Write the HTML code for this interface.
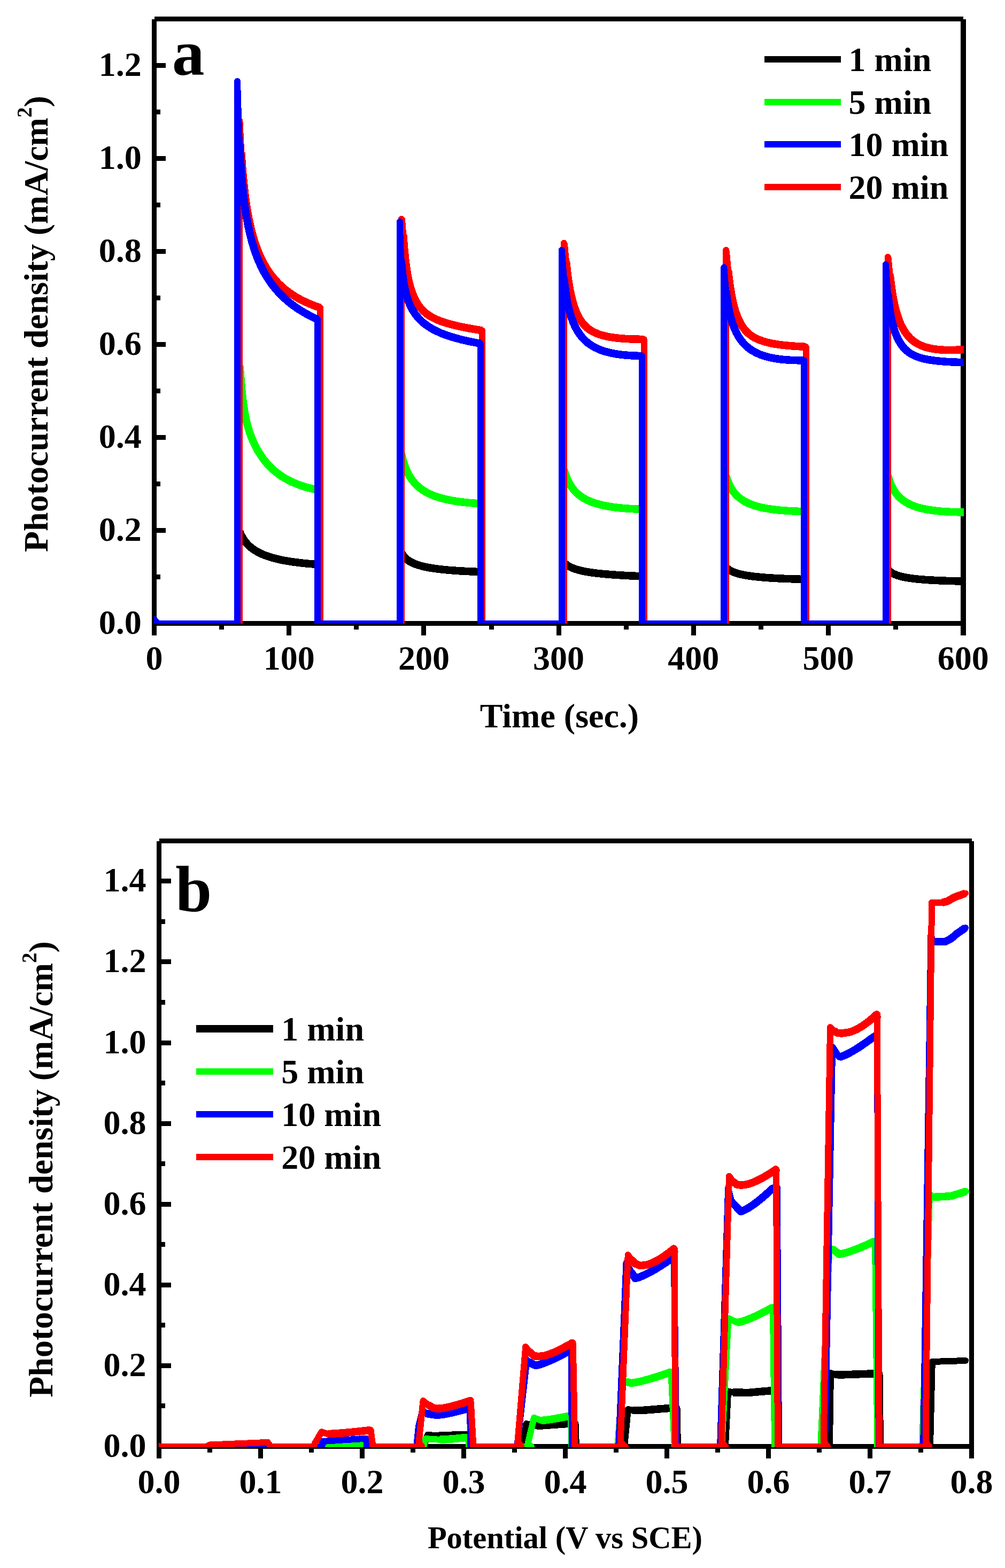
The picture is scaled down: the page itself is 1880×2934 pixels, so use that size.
<!DOCTYPE html>
<html><head><meta charset="utf-8"><title>Photocurrent density</title>
<style>html,body{margin:0;padding:0;background:#fff;}svg{display:block;}</style>
</head><body>
<svg xmlns="http://www.w3.org/2000/svg" width="1880" height="2934" viewBox="0 0 1880 2934" shape-rendering="crispEdges">
<rect width="100%" height="100%" fill="#fff"/>
<defs>
<clipPath id="ca"><rect x="288" y="35.5" width="1515" height="1131.5"/></clipPath>
<clipPath id="cb"><rect x="297" y="1573.5" width="1520.5" height="1134.5"/></clipPath>
</defs>
<line x1="288.50" y1="35.50" x2="1802.00" y2="35.50" stroke="#000" stroke-width="9" stroke-linecap="butt"/>
<line x1="1802.00" y1="35.50" x2="1802.00" y2="1171.00" stroke="#000" stroke-width="10" stroke-linecap="butt"/>
<line x1="288.50" y1="35.50" x2="288.50" y2="1189.00" stroke="#000" stroke-width="9" stroke-linecap="butt"/>
<line x1="288.50" y1="1166.50" x2="1806.50" y2="1166.50" stroke="#000" stroke-width="9" stroke-linecap="butt"/>
<line x1="540.70" y1="1171.00" x2="540.70" y2="1189.00" stroke="#000" stroke-width="9" stroke-linecap="butt"/>
<line x1="792.90" y1="1171.00" x2="792.90" y2="1189.00" stroke="#000" stroke-width="9" stroke-linecap="butt"/>
<line x1="1045.10" y1="1171.00" x2="1045.10" y2="1189.00" stroke="#000" stroke-width="9" stroke-linecap="butt"/>
<line x1="1297.30" y1="1171.00" x2="1297.30" y2="1189.00" stroke="#000" stroke-width="9" stroke-linecap="butt"/>
<line x1="1549.50" y1="1171.00" x2="1549.50" y2="1189.00" stroke="#000" stroke-width="9" stroke-linecap="butt"/>
<line x1="1802.00" y1="1171.00" x2="1802.00" y2="1189.00" stroke="#000" stroke-width="10" stroke-linecap="butt"/>
<line x1="414.60" y1="1171.00" x2="414.60" y2="1178.00" stroke="#000" stroke-width="9" stroke-linecap="butt"/>
<line x1="666.80" y1="1171.00" x2="666.80" y2="1178.00" stroke="#000" stroke-width="9" stroke-linecap="butt"/>
<line x1="919.00" y1="1171.00" x2="919.00" y2="1178.00" stroke="#000" stroke-width="9" stroke-linecap="butt"/>
<line x1="1171.20" y1="1171.00" x2="1171.20" y2="1178.00" stroke="#000" stroke-width="9" stroke-linecap="butt"/>
<line x1="1423.40" y1="1171.00" x2="1423.40" y2="1178.00" stroke="#000" stroke-width="9" stroke-linecap="butt"/>
<line x1="1675.60" y1="1171.00" x2="1675.60" y2="1178.00" stroke="#000" stroke-width="9" stroke-linecap="butt"/>
<line x1="293.00" y1="992.50" x2="310.00" y2="992.50" stroke="#000" stroke-width="9" stroke-linecap="butt"/>
<line x1="293.00" y1="818.50" x2="310.00" y2="818.50" stroke="#000" stroke-width="9" stroke-linecap="butt"/>
<line x1="293.00" y1="644.50" x2="310.00" y2="644.50" stroke="#000" stroke-width="9" stroke-linecap="butt"/>
<line x1="293.00" y1="470.50" x2="310.00" y2="470.50" stroke="#000" stroke-width="9" stroke-linecap="butt"/>
<line x1="293.00" y1="296.50" x2="310.00" y2="296.50" stroke="#000" stroke-width="9" stroke-linecap="butt"/>
<line x1="293.00" y1="122.50" x2="310.00" y2="122.50" stroke="#000" stroke-width="9" stroke-linecap="butt"/>
<line x1="293.00" y1="1079.50" x2="300.00" y2="1079.50" stroke="#000" stroke-width="9" stroke-linecap="butt"/>
<line x1="293.00" y1="905.50" x2="300.00" y2="905.50" stroke="#000" stroke-width="9" stroke-linecap="butt"/>
<line x1="293.00" y1="731.50" x2="300.00" y2="731.50" stroke="#000" stroke-width="9" stroke-linecap="butt"/>
<line x1="293.00" y1="557.50" x2="300.00" y2="557.50" stroke="#000" stroke-width="9" stroke-linecap="butt"/>
<line x1="293.00" y1="383.50" x2="300.00" y2="383.50" stroke="#000" stroke-width="9" stroke-linecap="butt"/>
<line x1="293.00" y1="209.50" x2="300.00" y2="209.50" stroke="#000" stroke-width="9" stroke-linecap="butt"/>
<line x1="293.00" y1="35.50" x2="300.00" y2="35.50" stroke="#000" stroke-width="9" stroke-linecap="butt"/>
<line x1="297.50" y1="1573.50" x2="1817.50" y2="1573.50" stroke="#000" stroke-width="9" stroke-linecap="butt"/>
<line x1="1817.50" y1="1573.50" x2="1817.50" y2="2711.00" stroke="#000" stroke-width="9" stroke-linecap="butt"/>
<line x1="297.50" y1="1573.50" x2="297.50" y2="2729.00" stroke="#000" stroke-width="9" stroke-linecap="butt"/>
<line x1="297.50" y1="2706.50" x2="1822.00" y2="2706.50" stroke="#000" stroke-width="9" stroke-linecap="butt"/>
<line x1="487.50" y1="2711.00" x2="487.50" y2="2729.00" stroke="#000" stroke-width="9" stroke-linecap="butt"/>
<line x1="677.50" y1="2711.00" x2="677.50" y2="2729.00" stroke="#000" stroke-width="9" stroke-linecap="butt"/>
<line x1="867.50" y1="2711.00" x2="867.50" y2="2729.00" stroke="#000" stroke-width="9" stroke-linecap="butt"/>
<line x1="1057.50" y1="2711.00" x2="1057.50" y2="2729.00" stroke="#000" stroke-width="9" stroke-linecap="butt"/>
<line x1="1247.50" y1="2711.00" x2="1247.50" y2="2729.00" stroke="#000" stroke-width="9" stroke-linecap="butt"/>
<line x1="1437.50" y1="2711.00" x2="1437.50" y2="2729.00" stroke="#000" stroke-width="9" stroke-linecap="butt"/>
<line x1="1627.50" y1="2711.00" x2="1627.50" y2="2729.00" stroke="#000" stroke-width="9" stroke-linecap="butt"/>
<line x1="1817.50" y1="2711.00" x2="1817.50" y2="2729.00" stroke="#000" stroke-width="9" stroke-linecap="butt"/>
<line x1="392.50" y1="2711.00" x2="392.50" y2="2718.00" stroke="#000" stroke-width="9" stroke-linecap="butt"/>
<line x1="582.50" y1="2711.00" x2="582.50" y2="2718.00" stroke="#000" stroke-width="9" stroke-linecap="butt"/>
<line x1="772.50" y1="2711.00" x2="772.50" y2="2718.00" stroke="#000" stroke-width="9" stroke-linecap="butt"/>
<line x1="962.50" y1="2711.00" x2="962.50" y2="2718.00" stroke="#000" stroke-width="9" stroke-linecap="butt"/>
<line x1="1152.50" y1="2711.00" x2="1152.50" y2="2718.00" stroke="#000" stroke-width="9" stroke-linecap="butt"/>
<line x1="1342.50" y1="2711.00" x2="1342.50" y2="2718.00" stroke="#000" stroke-width="9" stroke-linecap="butt"/>
<line x1="1532.50" y1="2711.00" x2="1532.50" y2="2718.00" stroke="#000" stroke-width="9" stroke-linecap="butt"/>
<line x1="1722.50" y1="2711.00" x2="1722.50" y2="2718.00" stroke="#000" stroke-width="9" stroke-linecap="butt"/>
<line x1="302.00" y1="2555.41" x2="320.00" y2="2555.41" stroke="#000" stroke-width="9" stroke-linecap="butt"/>
<line x1="302.00" y1="2404.32" x2="320.00" y2="2404.32" stroke="#000" stroke-width="9" stroke-linecap="butt"/>
<line x1="302.00" y1="2253.23" x2="320.00" y2="2253.23" stroke="#000" stroke-width="9" stroke-linecap="butt"/>
<line x1="302.00" y1="2102.14" x2="320.00" y2="2102.14" stroke="#000" stroke-width="9" stroke-linecap="butt"/>
<line x1="302.00" y1="1951.05" x2="320.00" y2="1951.05" stroke="#000" stroke-width="9" stroke-linecap="butt"/>
<line x1="302.00" y1="1799.96" x2="320.00" y2="1799.96" stroke="#000" stroke-width="9" stroke-linecap="butt"/>
<line x1="302.00" y1="1648.87" x2="320.00" y2="1648.87" stroke="#000" stroke-width="9" stroke-linecap="butt"/>
<line x1="302.00" y1="2630.95" x2="309.00" y2="2630.95" stroke="#000" stroke-width="9" stroke-linecap="butt"/>
<line x1="302.00" y1="2479.86" x2="309.00" y2="2479.86" stroke="#000" stroke-width="9" stroke-linecap="butt"/>
<line x1="302.00" y1="2328.78" x2="309.00" y2="2328.78" stroke="#000" stroke-width="9" stroke-linecap="butt"/>
<line x1="302.00" y1="2177.68" x2="309.00" y2="2177.68" stroke="#000" stroke-width="9" stroke-linecap="butt"/>
<line x1="302.00" y1="2026.59" x2="309.00" y2="2026.59" stroke="#000" stroke-width="9" stroke-linecap="butt"/>
<line x1="302.00" y1="1875.50" x2="309.00" y2="1875.50" stroke="#000" stroke-width="9" stroke-linecap="butt"/>
<line x1="302.00" y1="1724.41" x2="309.00" y2="1724.41" stroke="#000" stroke-width="9" stroke-linecap="butt"/>
<g clip-path="url(#ca)">
<polyline points="288.5,1158.7 292.3,1163.9 296.1,1166.5 444.1,1166.5 444.1,992.5 445.1,989.7 446.1,990.7 447.1,992.7 448.1,994.8 449.2,997.0 450.2,999.2 451.2,1001.2 452.2,1003.1 453.2,1005.0 454.2,1006.7 455.2,1008.3 456.2,1009.8 457.2,1011.3 458.2,1012.7 459.2,1014.0 460.2,1015.2 461.3,1016.4 462.3,1017.6 463.3,1018.6 464.3,1019.7 465.3,1020.7 466.3,1021.6 467.3,1022.6 468.3,1023.4 469.3,1024.3 470.3,1025.1 471.3,1025.9 472.4,1026.6 473.4,1027.4 474.4,1028.1 475.4,1028.8 476.4,1029.4 477.4,1030.1 478.4,1030.7 479.4,1031.3 480.4,1031.9 481.4,1032.5 482.4,1033.0 483.5,1033.6 484.5,1034.1 485.5,1034.6 486.5,1035.1 487.5,1035.6 488.5,1036.0 489.5,1036.5 490.5,1036.9 491.5,1037.4 492.5,1037.8 493.5,1038.2 494.5,1038.6 495.6,1039.0 496.6,1039.4 497.6,1039.8 498.6,1040.1 499.6,1040.5 500.6,1040.8 501.6,1041.2 502.6,1041.5 503.6,1041.8 504.6,1042.2 505.6,1042.5 506.7,1042.8 507.7,1043.1 508.7,1043.4 509.7,1043.7 510.7,1043.9 511.7,1044.2 512.7,1044.5 513.7,1044.8 514.7,1045.0 515.7,1045.3 516.7,1045.5 517.7,1045.8 518.8,1046.0 519.8,1046.3 520.8,1046.5 521.8,1046.7 522.8,1046.9 523.8,1047.2 524.8,1047.4 525.8,1047.6 526.8,1047.8 527.8,1048.0 528.8,1048.2 529.9,1048.4 530.9,1048.6 531.9,1048.8 532.9,1049.0 533.9,1049.2 534.9,1049.3 535.9,1049.5 536.9,1049.7 537.9,1049.9 538.9,1050.0 539.9,1050.2 541.0,1050.4 542.0,1050.5 543.0,1050.7 544.0,1050.8 545.0,1051.0 546.0,1051.1 547.0,1051.3 548.0,1051.4 549.0,1051.6 550.0,1051.7 551.0,1051.8 552.0,1052.0 553.1,1052.1 554.1,1052.2 555.1,1052.4 556.1,1052.5 557.1,1052.6 558.1,1052.8 559.1,1052.9 560.1,1053.0 561.1,1053.1 562.1,1053.2 563.1,1053.3 564.2,1053.5 565.2,1053.6 566.2,1053.7 567.2,1053.8 568.2,1053.9 569.2,1054.0 570.2,1054.1 571.2,1054.2 572.2,1054.3 573.2,1054.4 574.2,1054.5 575.3,1054.6 576.3,1054.7 577.3,1054.8 578.3,1054.9 579.3,1055.0 580.3,1055.1 581.3,1055.1 582.3,1055.2 583.3,1055.3 584.3,1055.4 585.3,1055.5 586.3,1055.6 587.4,1055.6 588.4,1055.7 589.4,1055.8 590.4,1055.9 591.4,1055.9 592.4,1056.0 593.4,1056.1 594.4,1056.2 594.4,1166.5 747.8,1166.5 747.8,1027.3 748.8,1029.3 749.8,1031.6 750.8,1033.7 751.8,1035.6 752.8,1037.3 753.8,1038.8 754.8,1040.2 755.8,1041.5 756.8,1042.6 757.8,1043.7 758.9,1044.7 759.9,1045.6 760.9,1046.5 761.9,1047.3 762.9,1048.1 763.9,1048.8 764.9,1049.4 765.9,1050.1 766.9,1050.7 767.9,1051.3 768.9,1051.8 769.9,1052.3 771.0,1052.9 772.0,1053.3 773.0,1053.8 774.0,1054.2 775.0,1054.7 776.0,1055.1 777.0,1055.5 778.0,1055.8 779.0,1056.2 780.0,1056.6 781.0,1056.9 782.1,1057.2 783.1,1057.5 784.1,1057.9 785.1,1058.1 786.1,1058.4 787.1,1058.7 788.1,1059.0 789.1,1059.3 790.1,1059.5 791.1,1059.8 792.1,1060.0 793.2,1060.2 794.2,1060.5 795.2,1060.7 796.2,1060.9 797.2,1061.1 798.2,1061.3 799.2,1061.5 800.2,1061.7 801.2,1061.9 802.2,1062.1 803.2,1062.3 804.2,1062.5 805.3,1062.6 806.3,1062.8 807.3,1063.0 808.3,1063.1 809.3,1063.3 810.3,1063.4 811.3,1063.6 812.3,1063.7 813.3,1063.9 814.3,1064.0 815.3,1064.2 816.4,1064.3 817.4,1064.4 818.4,1064.6 819.4,1064.7 820.4,1064.8 821.4,1064.9 822.4,1065.1 823.4,1065.2 824.4,1065.3 825.4,1065.4 826.4,1065.5 827.5,1065.6 828.5,1065.7 829.5,1065.8 830.5,1065.9 831.5,1066.0 832.5,1066.1 833.5,1066.2 834.5,1066.3 835.5,1066.4 836.5,1066.5 837.5,1066.6 838.5,1066.7 839.6,1066.8 840.6,1066.9 841.6,1067.0 842.6,1067.0 843.6,1067.1 844.6,1067.2 845.6,1067.3 846.6,1067.4 847.6,1067.4 848.6,1067.5 849.6,1067.6 850.7,1067.7 851.7,1067.7 852.7,1067.8 853.7,1067.9 854.7,1067.9 855.7,1068.0 856.7,1068.1 857.7,1068.1 858.7,1068.2 859.7,1068.3 860.7,1068.3 861.8,1068.4 862.8,1068.4 863.8,1068.5 864.8,1068.5 865.8,1068.6 866.8,1068.7 867.8,1068.7 868.8,1068.8 869.8,1068.8 870.8,1068.9 871.8,1068.9 872.8,1069.0 873.9,1069.0 874.9,1069.1 875.9,1069.1 876.9,1069.2 877.9,1069.2 878.9,1069.3 879.9,1069.3 880.9,1069.4 881.9,1069.4 882.9,1069.4 883.9,1069.5 885.0,1069.5 886.0,1069.6 887.0,1069.6 888.0,1069.6 889.0,1069.7 890.0,1069.7 891.0,1069.8 892.0,1069.8 893.0,1069.8 894.0,1069.9 895.0,1069.9 896.0,1069.9 897.1,1070.0 898.1,1070.0 898.6,1070.0 898.6,1166.5 1050.9,1166.5 1050.9,1049.0 1051.9,1049.2 1052.9,1050.2 1053.9,1051.4 1054.9,1052.4 1055.9,1053.5 1057.0,1054.4 1058.0,1055.3 1059.0,1056.1 1060.0,1056.9 1061.0,1057.6 1062.0,1058.3 1063.0,1058.9 1064.0,1059.5 1065.0,1060.1 1066.0,1060.6 1067.0,1061.1 1068.1,1061.6 1069.1,1062.1 1070.1,1062.5 1071.1,1062.9 1072.1,1063.3 1073.1,1063.7 1074.1,1064.1 1075.1,1064.4 1076.1,1064.8 1077.1,1065.1 1078.1,1065.4 1079.1,1065.7 1080.2,1066.0 1081.2,1066.3 1082.2,1066.6 1083.2,1066.8 1084.2,1067.1 1085.2,1067.4 1086.2,1067.6 1087.2,1067.8 1088.2,1068.1 1089.2,1068.3 1090.2,1068.5 1091.3,1068.7 1092.3,1068.9 1093.3,1069.1 1094.3,1069.3 1095.3,1069.5 1096.3,1069.7 1097.3,1069.9 1098.3,1070.1 1099.3,1070.2 1100.3,1070.4 1101.3,1070.6 1102.3,1070.7 1103.4,1070.9 1104.4,1071.0 1105.4,1071.2 1106.4,1071.3 1107.4,1071.5 1108.4,1071.6 1109.4,1071.8 1110.4,1071.9 1111.4,1072.0 1112.4,1072.2 1113.4,1072.3 1114.5,1072.4 1115.5,1072.5 1116.5,1072.7 1117.5,1072.8 1118.5,1072.9 1119.5,1073.0 1120.5,1073.1 1121.5,1073.2 1122.5,1073.3 1123.5,1073.4 1124.5,1073.5 1125.6,1073.6 1126.6,1073.7 1127.6,1073.8 1128.6,1073.9 1129.6,1074.0 1130.6,1074.1 1131.6,1074.2 1132.6,1074.3 1133.6,1074.4 1134.6,1074.5 1135.6,1074.6 1136.6,1074.7 1137.7,1074.7 1138.7,1074.8 1139.7,1074.9 1140.7,1075.0 1141.7,1075.1 1142.7,1075.1 1143.7,1075.2 1144.7,1075.3 1145.7,1075.4 1146.7,1075.4 1147.7,1075.5 1148.8,1075.6 1149.8,1075.7 1150.8,1075.7 1151.8,1075.8 1152.8,1075.9 1153.8,1075.9 1154.8,1076.0 1155.8,1076.1 1156.8,1076.1 1157.8,1076.2 1158.8,1076.2 1159.9,1076.3 1160.9,1076.4 1161.9,1076.4 1162.9,1076.5 1163.9,1076.5 1164.9,1076.6 1165.9,1076.6 1166.9,1076.7 1167.9,1076.8 1168.9,1076.8 1169.9,1076.9 1170.9,1076.9 1172.0,1077.0 1173.0,1077.0 1174.0,1077.1 1175.0,1077.1 1176.0,1077.2 1177.0,1077.2 1178.0,1077.3 1179.0,1077.3 1180.0,1077.4 1181.0,1077.4 1182.0,1077.4 1183.1,1077.5 1184.1,1077.5 1185.1,1077.6 1186.1,1077.6 1187.1,1077.7 1188.1,1077.7 1189.1,1077.8 1190.1,1077.8 1191.1,1077.8 1192.1,1077.9 1193.1,1077.9 1194.2,1078.0 1195.2,1078.0 1196.2,1078.0 1197.2,1078.1 1198.2,1078.1 1199.2,1078.1 1200.2,1078.2 1201.0,1078.2 1201.0,1166.5 1354.3,1166.5 1354.3,1057.8 1355.3,1058.3 1356.3,1059.4 1357.3,1060.6 1358.3,1061.6 1359.3,1062.6 1360.3,1063.6 1361.4,1064.4 1362.4,1065.2 1363.4,1065.9 1364.4,1066.6 1365.4,1067.2 1366.4,1067.8 1367.4,1068.3 1368.4,1068.8 1369.4,1069.3 1370.4,1069.8 1371.4,1070.2 1372.5,1070.6 1373.5,1071.0 1374.5,1071.4 1375.5,1071.7 1376.5,1072.1 1377.5,1072.4 1378.5,1072.7 1379.5,1073.0 1380.5,1073.3 1381.5,1073.6 1382.5,1073.9 1383.6,1074.1 1384.6,1074.4 1385.6,1074.6 1386.6,1074.8 1387.6,1075.1 1388.6,1075.3 1389.6,1075.5 1390.6,1075.7 1391.6,1075.9 1392.6,1076.1 1393.6,1076.3 1394.6,1076.5 1395.7,1076.6 1396.7,1076.8 1397.7,1077.0 1398.7,1077.1 1399.7,1077.3 1400.7,1077.4 1401.7,1077.6 1402.7,1077.7 1403.7,1077.9 1404.7,1078.0 1405.7,1078.2 1406.8,1078.3 1407.8,1078.4 1408.8,1078.5 1409.8,1078.7 1410.8,1078.8 1411.8,1078.9 1412.8,1079.0 1413.8,1079.1 1414.8,1079.2 1415.8,1079.3 1416.8,1079.4 1417.9,1079.5 1418.9,1079.6 1419.9,1079.7 1420.9,1079.8 1421.9,1079.9 1422.9,1080.0 1423.9,1080.1 1424.9,1080.2 1425.9,1080.3 1426.9,1080.4 1427.9,1080.5 1428.9,1080.5 1430.0,1080.6 1431.0,1080.7 1432.0,1080.8 1433.0,1080.9 1434.0,1080.9 1435.0,1081.0 1436.0,1081.1 1437.0,1081.1 1438.0,1081.2 1439.0,1081.3 1440.0,1081.3 1441.1,1081.4 1442.1,1081.5 1443.1,1081.5 1444.1,1081.6 1445.1,1081.7 1446.1,1081.7 1447.1,1081.8 1448.1,1081.8 1449.1,1081.9 1450.1,1081.9 1451.1,1082.0 1452.2,1082.1 1453.2,1082.1 1454.2,1082.2 1455.2,1082.2 1456.2,1082.3 1457.2,1082.3 1458.2,1082.4 1459.2,1082.4 1460.2,1082.5 1461.2,1082.5 1462.2,1082.5 1463.2,1082.6 1464.3,1082.6 1465.3,1082.7 1466.3,1082.7 1467.3,1082.8 1468.3,1082.8 1469.3,1082.9 1470.3,1082.9 1471.3,1082.9 1472.3,1083.0 1473.3,1083.0 1474.3,1083.0 1475.4,1083.1 1476.4,1083.1 1477.4,1083.2 1478.4,1083.2 1479.4,1083.2 1480.4,1083.3 1481.4,1083.3 1482.4,1083.3 1483.4,1083.4 1484.4,1083.4 1485.4,1083.4 1486.4,1083.5 1487.5,1083.5 1488.5,1083.5 1489.5,1083.5 1490.5,1083.6 1491.5,1083.6 1492.5,1083.6 1493.5,1083.7 1494.5,1083.7 1495.5,1083.7 1496.5,1083.7 1497.5,1083.8 1498.6,1083.8 1499.6,1083.8 1500.6,1083.9 1501.6,1083.9 1502.6,1083.9 1503.6,1083.9 1504.1,1083.9 1504.1,1166.5 1656.9,1166.5 1656.9,1062.1 1657.9,1062.7 1659.0,1063.8 1660.0,1065.0 1661.0,1066.2 1662.0,1067.2 1663.0,1068.1 1664.0,1069.0 1665.0,1069.8 1666.0,1070.5 1667.0,1071.2 1668.0,1071.8 1669.0,1072.4 1670.1,1073.0 1671.1,1073.5 1672.1,1074.0 1673.1,1074.5 1674.1,1074.9 1675.1,1075.3 1676.1,1075.7 1677.1,1076.1 1678.1,1076.4 1679.1,1076.8 1680.1,1077.1 1681.1,1077.4 1682.2,1077.7 1683.2,1078.0 1684.2,1078.3 1685.2,1078.5 1686.2,1078.8 1687.2,1079.0 1688.2,1079.3 1689.2,1079.5 1690.2,1079.7 1691.2,1079.9 1692.2,1080.1 1693.3,1080.3 1694.3,1080.5 1695.3,1080.7 1696.3,1080.9 1697.3,1081.0 1698.3,1081.2 1699.3,1081.4 1700.3,1081.5 1701.3,1081.7 1702.3,1081.8 1703.3,1082.0 1704.4,1082.1 1705.4,1082.3 1706.4,1082.4 1707.4,1082.5 1708.4,1082.7 1709.4,1082.8 1710.4,1082.9 1711.4,1083.0 1712.4,1083.1 1713.4,1083.2 1714.4,1083.3 1715.4,1083.5 1716.5,1083.6 1717.5,1083.7 1718.5,1083.8 1719.5,1083.9 1720.5,1083.9 1721.5,1084.0 1722.5,1084.1 1723.5,1084.2 1724.5,1084.3 1725.5,1084.4 1726.5,1084.5 1727.6,1084.5 1728.6,1084.6 1729.6,1084.7 1730.6,1084.8 1731.6,1084.9 1732.6,1084.9 1733.6,1085.0 1734.6,1085.1 1735.6,1085.1 1736.6,1085.2 1737.6,1085.3 1738.6,1085.3 1739.7,1085.4 1740.7,1085.4 1741.7,1085.5 1742.7,1085.6 1743.7,1085.6 1744.7,1085.7 1745.7,1085.7 1746.7,1085.8 1747.7,1085.8 1748.7,1085.9 1749.7,1085.9 1750.8,1086.0 1751.8,1086.0 1752.8,1086.1 1753.8,1086.1 1754.8,1086.2 1755.8,1086.2 1756.8,1086.3 1757.8,1086.3 1758.8,1086.4 1759.8,1086.4 1760.8,1086.4 1761.9,1086.5 1762.9,1086.5 1763.9,1086.6 1764.9,1086.6 1765.9,1086.6 1766.9,1086.7 1767.9,1086.7 1768.9,1086.7 1769.9,1086.8 1770.9,1086.8 1771.9,1086.8 1772.9,1086.9 1774.0,1086.9 1775.0,1086.9 1776.0,1087.0 1777.0,1087.0 1778.0,1087.0 1779.0,1087.1 1780.0,1087.1 1781.0,1087.1 1782.0,1087.1 1783.0,1087.2 1784.0,1087.2 1785.1,1087.2 1786.1,1087.2 1787.1,1087.3 1788.1,1087.3 1789.1,1087.3 1790.1,1087.3 1791.1,1087.4 1792.1,1087.4 1793.1,1087.4 1794.1,1087.4 1795.1,1087.5 1796.2,1087.5 1797.2,1087.5 1798.2,1087.5 1799.2,1087.5 1800.2,1087.6 1801.2,1087.6 1802.2,1087.6 1803.2,1087.6 1804.2,1087.6" fill="none" stroke="#000000" stroke-width="12" stroke-linejoin="round" stroke-linecap="round"/>
<polyline points="448.1,994.8 449.2,997.0 450.2,999.2 451.2,1001.2 452.2,1003.1 453.2,1005.0 454.2,1006.7 455.2,1008.3 456.2,1009.8 457.2,1011.3 458.2,1012.7 459.2,1014.0 460.2,1015.2 461.3,1016.4 462.3,1017.6 463.3,1018.6 464.3,1019.7 465.3,1020.7 466.3,1021.6 467.3,1022.6 468.3,1023.4 469.3,1024.3 470.3,1025.1 471.3,1025.9 472.4,1026.6 473.4,1027.4 474.4,1028.1 475.4,1028.8 476.4,1029.4 477.4,1030.1 478.4,1030.7 479.4,1031.3 480.4,1031.9 481.4,1032.5 482.4,1033.0 483.5,1033.6 484.5,1034.1 485.5,1034.6 486.5,1035.1 487.5,1035.6 488.5,1036.0 489.5,1036.5 490.5,1036.9 491.5,1037.4 492.5,1037.8 493.5,1038.2 494.5,1038.6 495.6,1039.0 496.6,1039.4 497.6,1039.8 498.6,1040.1 499.6,1040.5 500.6,1040.8 501.6,1041.2 502.6,1041.5 503.6,1041.8 504.6,1042.2 505.6,1042.5 506.7,1042.8 507.7,1043.1 508.7,1043.4 509.7,1043.7 510.7,1043.9 511.7,1044.2 512.7,1044.5 513.7,1044.8 514.7,1045.0 515.7,1045.3 516.7,1045.5 517.7,1045.8 518.8,1046.0 519.8,1046.3 520.8,1046.5 521.8,1046.7 522.8,1046.9 523.8,1047.2 524.8,1047.4 525.8,1047.6 526.8,1047.8 527.8,1048.0 528.8,1048.2 529.9,1048.4 530.9,1048.6 531.9,1048.8 532.9,1049.0 533.9,1049.2 534.9,1049.3 535.9,1049.5 536.9,1049.7 537.9,1049.9 538.9,1050.0 539.9,1050.2 541.0,1050.4 542.0,1050.5 543.0,1050.7 544.0,1050.8 545.0,1051.0 546.0,1051.1 547.0,1051.3 548.0,1051.4 549.0,1051.6 550.0,1051.7 551.0,1051.8 552.0,1052.0 553.1,1052.1 554.1,1052.2 555.1,1052.4 556.1,1052.5 557.1,1052.6 558.1,1052.8 559.1,1052.9 560.1,1053.0 561.1,1053.1 562.1,1053.2 563.1,1053.3 564.2,1053.5 565.2,1053.6 566.2,1053.7 567.2,1053.8 568.2,1053.9 569.2,1054.0 570.2,1054.1 571.2,1054.2 572.2,1054.3 573.2,1054.4 574.2,1054.5 575.3,1054.6 576.3,1054.7 577.3,1054.8 578.3,1054.9 579.3,1055.0 580.3,1055.1 581.3,1055.1 582.3,1055.2 583.3,1055.3 584.3,1055.4 585.3,1055.5 586.3,1055.6 587.4,1055.6 588.4,1055.7 589.4,1055.8 590.4,1055.9 591.4,1055.9 592.4,1056.0 593.4,1056.1 594.4,1056.2" fill="none" stroke="#000000" stroke-width="14.5" stroke-linejoin="round" stroke-linecap="butt"/>
<polyline points="750.8,1033.7 751.8,1035.6 752.8,1037.3 753.8,1038.8 754.8,1040.2 755.8,1041.5 756.8,1042.6 757.8,1043.7 758.9,1044.7 759.9,1045.6 760.9,1046.5 761.9,1047.3 762.9,1048.1 763.9,1048.8 764.9,1049.4 765.9,1050.1 766.9,1050.7 767.9,1051.3 768.9,1051.8 769.9,1052.3 771.0,1052.9 772.0,1053.3 773.0,1053.8 774.0,1054.2 775.0,1054.7 776.0,1055.1 777.0,1055.5 778.0,1055.8 779.0,1056.2 780.0,1056.6 781.0,1056.9 782.1,1057.2 783.1,1057.5 784.1,1057.9 785.1,1058.1 786.1,1058.4 787.1,1058.7 788.1,1059.0 789.1,1059.3 790.1,1059.5 791.1,1059.8 792.1,1060.0 793.2,1060.2 794.2,1060.5 795.2,1060.7 796.2,1060.9 797.2,1061.1 798.2,1061.3 799.2,1061.5 800.2,1061.7 801.2,1061.9 802.2,1062.1 803.2,1062.3 804.2,1062.5 805.3,1062.6 806.3,1062.8 807.3,1063.0 808.3,1063.1 809.3,1063.3 810.3,1063.4 811.3,1063.6 812.3,1063.7 813.3,1063.9 814.3,1064.0 815.3,1064.2 816.4,1064.3 817.4,1064.4 818.4,1064.6 819.4,1064.7 820.4,1064.8 821.4,1064.9 822.4,1065.1 823.4,1065.2 824.4,1065.3 825.4,1065.4 826.4,1065.5 827.5,1065.6 828.5,1065.7 829.5,1065.8 830.5,1065.9 831.5,1066.0 832.5,1066.1 833.5,1066.2 834.5,1066.3 835.5,1066.4 836.5,1066.5 837.5,1066.6 838.5,1066.7 839.6,1066.8 840.6,1066.9 841.6,1067.0 842.6,1067.0 843.6,1067.1 844.6,1067.2 845.6,1067.3 846.6,1067.4 847.6,1067.4 848.6,1067.5 849.6,1067.6 850.7,1067.7 851.7,1067.7 852.7,1067.8 853.7,1067.9 854.7,1067.9 855.7,1068.0 856.7,1068.1 857.7,1068.1 858.7,1068.2 859.7,1068.3 860.7,1068.3 861.8,1068.4 862.8,1068.4 863.8,1068.5 864.8,1068.5 865.8,1068.6 866.8,1068.7 867.8,1068.7 868.8,1068.8 869.8,1068.8 870.8,1068.9 871.8,1068.9 872.8,1069.0 873.9,1069.0 874.9,1069.1 875.9,1069.1 876.9,1069.2 877.9,1069.2 878.9,1069.3 879.9,1069.3 880.9,1069.4 881.9,1069.4 882.9,1069.4 883.9,1069.5 885.0,1069.5 886.0,1069.6 887.0,1069.6 888.0,1069.6 889.0,1069.7 890.0,1069.7 891.0,1069.8 892.0,1069.8 893.0,1069.8 894.0,1069.9 895.0,1069.9 896.0,1069.9 897.1,1070.0 898.1,1070.0 898.6,1070.0" fill="none" stroke="#000000" stroke-width="14.5" stroke-linejoin="round" stroke-linecap="butt"/>
<polyline points="1054.9,1052.4 1055.9,1053.5 1057.0,1054.4 1058.0,1055.3 1059.0,1056.1 1060.0,1056.9 1061.0,1057.6 1062.0,1058.3 1063.0,1058.9 1064.0,1059.5 1065.0,1060.1 1066.0,1060.6 1067.0,1061.1 1068.1,1061.6 1069.1,1062.1 1070.1,1062.5 1071.1,1062.9 1072.1,1063.3 1073.1,1063.7 1074.1,1064.1 1075.1,1064.4 1076.1,1064.8 1077.1,1065.1 1078.1,1065.4 1079.1,1065.7 1080.2,1066.0 1081.2,1066.3 1082.2,1066.6 1083.2,1066.8 1084.2,1067.1 1085.2,1067.4 1086.2,1067.6 1087.2,1067.8 1088.2,1068.1 1089.2,1068.3 1090.2,1068.5 1091.3,1068.7 1092.3,1068.9 1093.3,1069.1 1094.3,1069.3 1095.3,1069.5 1096.3,1069.7 1097.3,1069.9 1098.3,1070.1 1099.3,1070.2 1100.3,1070.4 1101.3,1070.6 1102.3,1070.7 1103.4,1070.9 1104.4,1071.0 1105.4,1071.2 1106.4,1071.3 1107.4,1071.5 1108.4,1071.6 1109.4,1071.8 1110.4,1071.9 1111.4,1072.0 1112.4,1072.2 1113.4,1072.3 1114.5,1072.4 1115.5,1072.5 1116.5,1072.7 1117.5,1072.8 1118.5,1072.9 1119.5,1073.0 1120.5,1073.1 1121.5,1073.2 1122.5,1073.3 1123.5,1073.4 1124.5,1073.5 1125.6,1073.6 1126.6,1073.7 1127.6,1073.8 1128.6,1073.9 1129.6,1074.0 1130.6,1074.1 1131.6,1074.2 1132.6,1074.3 1133.6,1074.4 1134.6,1074.5 1135.6,1074.6 1136.6,1074.7 1137.7,1074.7 1138.7,1074.8 1139.7,1074.9 1140.7,1075.0 1141.7,1075.1 1142.7,1075.1 1143.7,1075.2 1144.7,1075.3 1145.7,1075.4 1146.7,1075.4 1147.7,1075.5 1148.8,1075.6 1149.8,1075.7 1150.8,1075.7 1151.8,1075.8 1152.8,1075.9 1153.8,1075.9 1154.8,1076.0 1155.8,1076.1 1156.8,1076.1 1157.8,1076.2 1158.8,1076.2 1159.9,1076.3 1160.9,1076.4 1161.9,1076.4 1162.9,1076.5 1163.9,1076.5 1164.9,1076.6 1165.9,1076.6 1166.9,1076.7 1167.9,1076.8 1168.9,1076.8 1169.9,1076.9 1170.9,1076.9 1172.0,1077.0 1173.0,1077.0 1174.0,1077.1 1175.0,1077.1 1176.0,1077.2 1177.0,1077.2 1178.0,1077.3 1179.0,1077.3 1180.0,1077.4 1181.0,1077.4 1182.0,1077.4 1183.1,1077.5 1184.1,1077.5 1185.1,1077.6 1186.1,1077.6 1187.1,1077.7 1188.1,1077.7 1189.1,1077.8 1190.1,1077.8 1191.1,1077.8 1192.1,1077.9 1193.1,1077.9 1194.2,1078.0 1195.2,1078.0 1196.2,1078.0 1197.2,1078.1 1198.2,1078.1 1199.2,1078.1 1200.2,1078.2 1201.0,1078.2" fill="none" stroke="#000000" stroke-width="14.5" stroke-linejoin="round" stroke-linecap="butt"/>
<polyline points="1358.3,1061.6 1359.3,1062.6 1360.3,1063.6 1361.4,1064.4 1362.4,1065.2 1363.4,1065.9 1364.4,1066.6 1365.4,1067.2 1366.4,1067.8 1367.4,1068.3 1368.4,1068.8 1369.4,1069.3 1370.4,1069.8 1371.4,1070.2 1372.5,1070.6 1373.5,1071.0 1374.5,1071.4 1375.5,1071.7 1376.5,1072.1 1377.5,1072.4 1378.5,1072.7 1379.5,1073.0 1380.5,1073.3 1381.5,1073.6 1382.5,1073.9 1383.6,1074.1 1384.6,1074.4 1385.6,1074.6 1386.6,1074.8 1387.6,1075.1 1388.6,1075.3 1389.6,1075.5 1390.6,1075.7 1391.6,1075.9 1392.6,1076.1 1393.6,1076.3 1394.6,1076.5 1395.7,1076.6 1396.7,1076.8 1397.7,1077.0 1398.7,1077.1 1399.7,1077.3 1400.7,1077.4 1401.7,1077.6 1402.7,1077.7 1403.7,1077.9 1404.7,1078.0 1405.7,1078.2 1406.8,1078.3 1407.8,1078.4 1408.8,1078.5 1409.8,1078.7 1410.8,1078.8 1411.8,1078.9 1412.8,1079.0 1413.8,1079.1 1414.8,1079.2 1415.8,1079.3 1416.8,1079.4 1417.9,1079.5 1418.9,1079.6 1419.9,1079.7 1420.9,1079.8 1421.9,1079.9 1422.9,1080.0 1423.9,1080.1 1424.9,1080.2 1425.9,1080.3 1426.9,1080.4 1427.9,1080.5 1428.9,1080.5 1430.0,1080.6 1431.0,1080.7 1432.0,1080.8 1433.0,1080.9 1434.0,1080.9 1435.0,1081.0 1436.0,1081.1 1437.0,1081.1 1438.0,1081.2 1439.0,1081.3 1440.0,1081.3 1441.1,1081.4 1442.1,1081.5 1443.1,1081.5 1444.1,1081.6 1445.1,1081.7 1446.1,1081.7 1447.1,1081.8 1448.1,1081.8 1449.1,1081.9 1450.1,1081.9 1451.1,1082.0 1452.2,1082.1 1453.2,1082.1 1454.2,1082.2 1455.2,1082.2 1456.2,1082.3 1457.2,1082.3 1458.2,1082.4 1459.2,1082.4 1460.2,1082.5 1461.2,1082.5 1462.2,1082.5 1463.2,1082.6 1464.3,1082.6 1465.3,1082.7 1466.3,1082.7 1467.3,1082.8 1468.3,1082.8 1469.3,1082.9 1470.3,1082.9 1471.3,1082.9 1472.3,1083.0 1473.3,1083.0 1474.3,1083.0 1475.4,1083.1 1476.4,1083.1 1477.4,1083.2 1478.4,1083.2 1479.4,1083.2 1480.4,1083.3 1481.4,1083.3 1482.4,1083.3 1483.4,1083.4 1484.4,1083.4 1485.4,1083.4 1486.4,1083.5 1487.5,1083.5 1488.5,1083.5 1489.5,1083.5 1490.5,1083.6 1491.5,1083.6 1492.5,1083.6 1493.5,1083.7 1494.5,1083.7 1495.5,1083.7 1496.5,1083.7 1497.5,1083.8 1498.6,1083.8 1499.6,1083.8 1500.6,1083.9 1501.6,1083.9 1502.6,1083.9 1503.6,1083.9 1504.1,1083.9" fill="none" stroke="#000000" stroke-width="14.5" stroke-linejoin="round" stroke-linecap="butt"/>
<polyline points="1661.0,1066.2 1662.0,1067.2 1663.0,1068.1 1664.0,1069.0 1665.0,1069.8 1666.0,1070.5 1667.0,1071.2 1668.0,1071.8 1669.0,1072.4 1670.1,1073.0 1671.1,1073.5 1672.1,1074.0 1673.1,1074.5 1674.1,1074.9 1675.1,1075.3 1676.1,1075.7 1677.1,1076.1 1678.1,1076.4 1679.1,1076.8 1680.1,1077.1 1681.1,1077.4 1682.2,1077.7 1683.2,1078.0 1684.2,1078.3 1685.2,1078.5 1686.2,1078.8 1687.2,1079.0 1688.2,1079.3 1689.2,1079.5 1690.2,1079.7 1691.2,1079.9 1692.2,1080.1 1693.3,1080.3 1694.3,1080.5 1695.3,1080.7 1696.3,1080.9 1697.3,1081.0 1698.3,1081.2 1699.3,1081.4 1700.3,1081.5 1701.3,1081.7 1702.3,1081.8 1703.3,1082.0 1704.4,1082.1 1705.4,1082.3 1706.4,1082.4 1707.4,1082.5 1708.4,1082.7 1709.4,1082.8 1710.4,1082.9 1711.4,1083.0 1712.4,1083.1 1713.4,1083.2 1714.4,1083.3 1715.4,1083.5 1716.5,1083.6 1717.5,1083.7 1718.5,1083.8 1719.5,1083.9 1720.5,1083.9 1721.5,1084.0 1722.5,1084.1 1723.5,1084.2 1724.5,1084.3 1725.5,1084.4 1726.5,1084.5 1727.6,1084.5 1728.6,1084.6 1729.6,1084.7 1730.6,1084.8 1731.6,1084.9 1732.6,1084.9 1733.6,1085.0 1734.6,1085.1 1735.6,1085.1 1736.6,1085.2 1737.6,1085.3 1738.6,1085.3 1739.7,1085.4 1740.7,1085.4 1741.7,1085.5 1742.7,1085.6 1743.7,1085.6 1744.7,1085.7 1745.7,1085.7 1746.7,1085.8 1747.7,1085.8 1748.7,1085.9 1749.7,1085.9 1750.8,1086.0 1751.8,1086.0 1752.8,1086.1 1753.8,1086.1 1754.8,1086.2 1755.8,1086.2 1756.8,1086.3 1757.8,1086.3 1758.8,1086.4 1759.8,1086.4 1760.8,1086.4 1761.9,1086.5 1762.9,1086.5 1763.9,1086.6 1764.9,1086.6 1765.9,1086.6 1766.9,1086.7 1767.9,1086.7 1768.9,1086.7 1769.9,1086.8 1770.9,1086.8 1771.9,1086.8 1772.9,1086.9 1774.0,1086.9 1775.0,1086.9 1776.0,1087.0 1777.0,1087.0 1778.0,1087.0 1779.0,1087.1 1780.0,1087.1 1781.0,1087.1 1782.0,1087.1 1783.0,1087.2 1784.0,1087.2 1785.1,1087.2 1786.1,1087.2 1787.1,1087.3 1788.1,1087.3 1789.1,1087.3 1790.1,1087.3 1791.1,1087.4 1792.1,1087.4 1793.1,1087.4 1794.1,1087.4 1795.1,1087.5 1796.2,1087.5 1797.2,1087.5 1798.2,1087.5 1799.2,1087.5 1800.2,1087.6 1801.2,1087.6 1802.2,1087.6 1803.2,1087.6 1804.2,1087.6" fill="none" stroke="#000000" stroke-width="14.5" stroke-linejoin="round" stroke-linecap="butt"/>
</g>
<g clip-path="url(#ca)">
<polyline points="288.5,1158.7 292.3,1163.9 296.1,1166.5 444.1,1166.5 444.1,679.3 445.1,675.7 446.1,674.1 447.1,677.3 448.1,684.2 449.2,693.9 450.2,705.7 451.2,718.1 452.2,729.4 453.2,739.3 454.2,748.1 455.2,755.8 456.2,762.7 457.2,769.0 458.2,774.6 459.2,779.7 460.2,784.5 461.3,788.9 462.3,793.0 463.3,796.8 464.3,800.4 465.3,803.7 466.3,806.9 467.3,810.0 468.3,812.8 469.3,815.6 470.3,818.2 471.3,820.7 472.4,823.1 473.4,825.5 474.4,827.7 475.4,829.9 476.4,832.0 477.4,834.0 478.4,836.0 479.4,837.9 480.4,839.7 481.4,841.5 482.4,843.3 483.5,845.0 484.5,846.7 485.5,848.3 486.5,849.9 487.5,851.4 488.5,852.9 489.5,854.4 490.5,855.8 491.5,857.2 492.5,858.6 493.5,859.9 494.5,861.2 495.6,862.5 496.6,863.7 497.6,865.0 498.6,866.2 499.6,867.3 500.6,868.5 501.6,869.6 502.6,870.7 503.6,871.7 504.6,872.8 505.6,873.8 506.7,874.8 507.7,875.8 508.7,876.7 509.7,877.6 510.7,878.6 511.7,879.5 512.7,880.3 513.7,881.2 514.7,882.1 515.7,882.9 516.7,883.7 517.7,884.5 518.8,885.3 519.8,886.0 520.8,886.8 521.8,887.5 522.8,888.3 523.8,889.0 524.8,889.7 525.8,890.3 526.8,891.0 527.8,891.7 528.8,892.3 529.9,893.0 530.9,893.6 531.9,894.2 532.9,894.8 533.9,895.4 534.9,895.9 535.9,896.5 536.9,897.1 537.9,897.6 538.9,898.2 539.9,898.7 541.0,899.2 542.0,899.7 543.0,900.2 544.0,900.7 545.0,901.2 546.0,901.7 547.0,902.1 548.0,902.6 549.0,903.0 550.0,903.5 551.0,903.9 552.0,904.3 553.1,904.7 554.1,905.2 555.1,905.6 556.1,906.0 557.1,906.4 558.1,906.7 559.1,907.1 560.1,907.5 561.1,907.8 562.1,908.2 563.1,908.6 564.2,908.9 565.2,909.2 566.2,909.6 567.2,909.9 568.2,910.2 569.2,910.5 570.2,910.8 571.2,911.2 572.2,911.5 573.2,911.7 574.2,912.0 575.3,912.3 576.3,912.6 577.3,912.9 578.3,913.1 579.3,913.4 580.3,913.7 581.3,913.9 582.3,914.2 583.3,914.4 584.3,914.7 585.3,914.9 586.3,915.1 587.4,915.4 588.4,915.6 589.4,915.8 590.4,916.0 591.4,916.2 592.4,916.4 593.4,916.7 594.4,916.9 594.4,1166.5 747.8,1166.5 747.8,844.6 748.8,842.3 749.8,845.2 750.8,849.0 751.8,853.1 752.8,857.0 753.8,860.6 754.8,864.1 755.8,867.3 756.8,870.3 757.8,873.1 758.9,875.8 759.9,878.2 760.9,880.6 761.9,882.8 762.9,884.8 763.9,886.8 764.9,888.7 765.9,890.4 766.9,892.1 767.9,893.7 768.9,895.2 769.9,896.7 771.0,898.1 772.0,899.4 773.0,900.7 774.0,901.9 775.0,903.1 776.0,904.3 777.0,905.4 778.0,906.4 779.0,907.4 780.0,908.4 781.0,909.3 782.1,910.3 783.1,911.1 784.1,912.0 785.1,912.8 786.1,913.6 787.1,914.4 788.1,915.1 789.1,915.8 790.1,916.5 791.1,917.2 792.1,917.9 793.2,918.5 794.2,919.2 795.2,919.8 796.2,920.3 797.2,920.9 798.2,921.5 799.2,922.0 800.2,922.5 801.2,923.1 802.2,923.6 803.2,924.0 804.2,924.5 805.3,925.0 806.3,925.4 807.3,925.9 808.3,926.3 809.3,926.7 810.3,927.1 811.3,927.5 812.3,927.9 813.3,928.3 814.3,928.6 815.3,929.0 816.4,929.4 817.4,929.7 818.4,930.0 819.4,930.4 820.4,930.7 821.4,931.0 822.4,931.3 823.4,931.6 824.4,931.9 825.4,932.2 826.4,932.4 827.5,932.7 828.5,933.0 829.5,933.2 830.5,933.5 831.5,933.7 832.5,934.0 833.5,934.2 834.5,934.5 835.5,934.7 836.5,934.9 837.5,935.1 838.5,935.3 839.6,935.5 840.6,935.7 841.6,935.9 842.6,936.1 843.6,936.3 844.6,936.5 845.6,936.7 846.6,936.9 847.6,937.1 848.6,937.2 849.6,937.4 850.7,937.6 851.7,937.7 852.7,937.9 853.7,938.0 854.7,938.2 855.7,938.3 856.7,938.5 857.7,938.6 858.7,938.7 859.7,938.9 860.7,939.0 861.8,939.1 862.8,939.3 863.8,939.4 864.8,939.5 865.8,939.6 866.8,939.7 867.8,939.9 868.8,940.0 869.8,940.1 870.8,940.2 871.8,940.3 872.8,940.4 873.9,940.5 874.9,940.6 875.9,940.7 876.9,940.8 877.9,940.8 878.9,940.9 879.9,941.0 880.9,941.1 881.9,941.2 882.9,941.3 883.9,941.3 885.0,941.4 886.0,941.5 887.0,941.6 888.0,941.6 889.0,941.7 890.0,941.8 891.0,941.8 892.0,941.9 893.0,942.0 894.0,942.0 895.0,942.1 896.0,942.1 897.1,942.2 898.1,942.2 898.6,942.3 898.6,1166.5 1050.9,1166.5 1050.9,870.7 1051.9,869.1 1052.9,871.7 1053.9,875.1 1054.9,878.6 1055.9,882.0 1057.0,885.2 1058.0,888.2 1059.0,891.0 1060.0,893.6 1061.0,896.1 1062.0,898.3 1063.0,900.5 1064.0,902.5 1065.0,904.4 1066.0,906.1 1067.0,907.8 1068.1,909.4 1069.1,910.9 1070.1,912.4 1071.1,913.7 1072.1,915.0 1073.1,916.3 1074.1,917.4 1075.1,918.6 1076.1,919.7 1077.1,920.7 1078.1,921.7 1079.1,922.7 1080.2,923.6 1081.2,924.5 1082.2,925.3 1083.2,926.1 1084.2,926.9 1085.2,927.7 1086.2,928.4 1087.2,929.1 1088.2,929.8 1089.2,930.5 1090.2,931.1 1091.3,931.8 1092.3,932.4 1093.3,932.9 1094.3,933.5 1095.3,934.1 1096.3,934.6 1097.3,935.1 1098.3,935.6 1099.3,936.1 1100.3,936.6 1101.3,937.0 1102.3,937.5 1103.4,937.9 1104.4,938.3 1105.4,938.7 1106.4,939.1 1107.4,939.5 1108.4,939.9 1109.4,940.2 1110.4,940.6 1111.4,940.9 1112.4,941.3 1113.4,941.6 1114.5,941.9 1115.5,942.2 1116.5,942.5 1117.5,942.8 1118.5,943.1 1119.5,943.4 1120.5,943.7 1121.5,943.9 1122.5,944.2 1123.5,944.4 1124.5,944.7 1125.6,944.9 1126.6,945.2 1127.6,945.4 1128.6,945.6 1129.6,945.8 1130.6,946.0 1131.6,946.3 1132.6,946.5 1133.6,946.6 1134.6,946.8 1135.6,947.0 1136.6,947.2 1137.7,947.4 1138.7,947.6 1139.7,947.7 1140.7,947.9 1141.7,948.1 1142.7,948.2 1143.7,948.4 1144.7,948.5 1145.7,948.7 1146.7,948.8 1147.7,949.0 1148.8,949.1 1149.8,949.2 1150.8,949.4 1151.8,949.5 1152.8,949.6 1153.8,949.7 1154.8,949.8 1155.8,950.0 1156.8,950.1 1157.8,950.2 1158.8,950.3 1159.9,950.4 1160.9,950.5 1161.9,950.6 1162.9,950.7 1163.9,950.8 1164.9,950.9 1165.9,951.0 1166.9,951.0 1167.9,951.1 1168.9,951.2 1169.9,951.3 1170.9,951.4 1172.0,951.4 1173.0,951.5 1174.0,951.6 1175.0,951.7 1176.0,951.7 1177.0,951.8 1178.0,951.8 1179.0,951.9 1180.0,952.0 1181.0,952.0 1182.0,952.1 1183.1,952.1 1184.1,952.2 1185.1,952.2 1186.1,952.3 1187.1,952.3 1188.1,952.4 1189.1,952.4 1190.1,952.5 1191.1,952.5 1192.1,952.6 1193.1,952.6 1194.2,952.6 1195.2,952.7 1196.2,952.7 1197.2,952.7 1198.2,952.8 1199.2,952.8 1200.2,952.8 1201.0,952.8 1201.0,1166.5 1354.3,1166.5 1354.3,879.4 1355.3,880.0 1356.3,883.3 1357.3,887.0 1358.3,890.6 1359.3,893.9 1360.3,897.0 1361.4,899.9 1362.4,902.5 1363.4,904.9 1364.4,907.1 1365.4,909.2 1366.4,911.2 1367.4,913.0 1368.4,914.7 1369.4,916.3 1370.4,917.8 1371.4,919.3 1372.5,920.6 1373.5,921.9 1374.5,923.1 1375.5,924.3 1376.5,925.4 1377.5,926.5 1378.5,927.5 1379.5,928.4 1380.5,929.3 1381.5,930.2 1382.5,931.1 1383.6,931.9 1384.6,932.7 1385.6,933.4 1386.6,934.1 1387.6,934.8 1388.6,935.5 1389.6,936.2 1390.6,936.8 1391.6,937.4 1392.6,938.0 1393.6,938.5 1394.6,939.1 1395.7,939.6 1396.7,940.1 1397.7,940.6 1398.7,941.1 1399.7,941.5 1400.7,942.0 1401.7,942.4 1402.7,942.8 1403.7,943.2 1404.7,943.6 1405.7,944.0 1406.8,944.4 1407.8,944.8 1408.8,945.1 1409.8,945.5 1410.8,945.8 1411.8,946.1 1412.8,946.4 1413.8,946.7 1414.8,947.0 1415.8,947.3 1416.8,947.6 1417.9,947.9 1418.9,948.1 1419.9,948.4 1420.9,948.7 1421.9,948.9 1422.9,949.1 1423.9,949.4 1424.9,949.6 1425.9,949.8 1426.9,950.0 1427.9,950.2 1428.9,950.5 1430.0,950.7 1431.0,950.9 1432.0,951.0 1433.0,951.2 1434.0,951.4 1435.0,951.6 1436.0,951.8 1437.0,951.9 1438.0,952.1 1439.0,952.2 1440.0,952.4 1441.1,952.6 1442.1,952.7 1443.1,952.8 1444.1,953.0 1445.1,953.1 1446.1,953.3 1447.1,953.4 1448.1,953.5 1449.1,953.6 1450.1,953.8 1451.1,953.9 1452.2,954.0 1453.2,954.1 1454.2,954.2 1455.2,954.3 1456.2,954.4 1457.2,954.5 1458.2,954.6 1459.2,954.7 1460.2,954.8 1461.2,954.9 1462.2,955.0 1463.2,955.1 1464.3,955.1 1465.3,955.2 1466.3,955.3 1467.3,955.4 1468.3,955.5 1469.3,955.5 1470.3,955.6 1471.3,955.7 1472.3,955.7 1473.3,955.8 1474.3,955.9 1475.4,955.9 1476.4,956.0 1477.4,956.0 1478.4,956.1 1479.4,956.2 1480.4,956.2 1481.4,956.3 1482.4,956.3 1483.4,956.4 1484.4,956.4 1485.4,956.4 1486.4,956.5 1487.5,956.5 1488.5,956.6 1489.5,956.6 1490.5,956.6 1491.5,956.7 1492.5,956.7 1493.5,956.8 1494.5,956.8 1495.5,956.8 1496.5,956.8 1497.5,956.9 1498.6,956.9 1499.6,956.9 1500.6,957.0 1501.6,957.0 1502.6,957.0 1503.6,957.0 1504.1,957.0 1504.1,1166.5 1656.9,1166.5 1656.9,879.4 1657.9,879.0 1659.0,882.2 1660.0,885.9 1661.0,889.7 1662.0,893.2 1663.0,896.4 1664.0,899.5 1665.0,902.3 1666.0,904.9 1667.0,907.3 1668.0,909.5 1669.0,911.6 1670.1,913.5 1671.1,915.4 1672.1,917.1 1673.1,918.7 1674.1,920.3 1675.1,921.7 1676.1,923.1 1677.1,924.4 1678.1,925.6 1679.1,926.8 1680.1,927.9 1681.1,929.0 1682.2,930.0 1683.2,931.0 1684.2,932.0 1685.2,932.9 1686.2,933.7 1687.2,934.5 1688.2,935.3 1689.2,936.1 1690.2,936.8 1691.2,937.5 1692.2,938.2 1693.3,938.9 1694.3,939.5 1695.3,940.1 1696.3,940.7 1697.3,941.3 1698.3,941.8 1699.3,942.4 1700.3,942.9 1701.3,943.4 1702.3,943.8 1703.3,944.3 1704.4,944.8 1705.4,945.2 1706.4,945.6 1707.4,946.0 1708.4,946.4 1709.4,946.8 1710.4,947.2 1711.4,947.5 1712.4,947.9 1713.4,948.2 1714.4,948.5 1715.4,948.9 1716.5,949.2 1717.5,949.5 1718.5,949.8 1719.5,950.0 1720.5,950.3 1721.5,950.6 1722.5,950.8 1723.5,951.1 1724.5,951.3 1725.5,951.6 1726.5,951.8 1727.6,952.0 1728.6,952.3 1729.6,952.5 1730.6,952.7 1731.6,952.9 1732.6,953.1 1733.6,953.3 1734.6,953.4 1735.6,953.6 1736.6,953.8 1737.6,954.0 1738.6,954.1 1739.7,954.3 1740.7,954.4 1741.7,954.6 1742.7,954.7 1743.7,954.9 1744.7,955.0 1745.7,955.2 1746.7,955.3 1747.7,955.4 1748.7,955.5 1749.7,955.7 1750.8,955.8 1751.8,955.9 1752.8,956.0 1753.8,956.1 1754.8,956.2 1755.8,956.3 1756.8,956.4 1757.8,956.5 1758.8,956.6 1759.8,956.7 1760.8,956.8 1761.9,956.8 1762.9,956.9 1763.9,957.0 1764.9,957.1 1765.9,957.1 1766.9,957.2 1767.9,957.3 1768.9,957.3 1769.9,957.4 1770.9,957.5 1771.9,957.5 1772.9,957.6 1774.0,957.6 1775.0,957.7 1776.0,957.7 1777.0,957.8 1778.0,957.8 1779.0,957.9 1780.0,957.9 1781.0,957.9 1782.0,958.0 1783.0,958.0 1784.0,958.1 1785.1,958.1 1786.1,958.1 1787.1,958.1 1788.1,958.2 1789.1,958.2 1790.1,958.2 1791.1,958.2 1792.1,958.3 1793.1,958.3 1794.1,958.3 1795.1,958.3 1796.2,958.3 1797.2,958.4 1798.2,958.4 1799.2,958.4 1800.2,958.4 1801.2,958.4 1802.2,958.4 1803.2,958.4 1804.2,958.4" fill="none" stroke="#00ff00" stroke-width="12" stroke-linejoin="round" stroke-linecap="round"/>
<polyline points="448.1,684.2 449.2,693.9 450.2,705.7 451.2,718.1 452.2,729.4 453.2,739.3 454.2,748.1 455.2,755.8 456.2,762.7 457.2,769.0 458.2,774.6 459.2,779.7 460.2,784.5 461.3,788.9 462.3,793.0 463.3,796.8 464.3,800.4 465.3,803.7 466.3,806.9 467.3,810.0 468.3,812.8 469.3,815.6 470.3,818.2 471.3,820.7 472.4,823.1 473.4,825.5 474.4,827.7 475.4,829.9 476.4,832.0 477.4,834.0 478.4,836.0 479.4,837.9 480.4,839.7 481.4,841.5 482.4,843.3 483.5,845.0 484.5,846.7 485.5,848.3 486.5,849.9 487.5,851.4 488.5,852.9 489.5,854.4 490.5,855.8 491.5,857.2 492.5,858.6 493.5,859.9 494.5,861.2 495.6,862.5 496.6,863.7 497.6,865.0 498.6,866.2 499.6,867.3 500.6,868.5 501.6,869.6 502.6,870.7 503.6,871.7 504.6,872.8 505.6,873.8 506.7,874.8 507.7,875.8 508.7,876.7 509.7,877.6 510.7,878.6 511.7,879.5 512.7,880.3 513.7,881.2 514.7,882.1 515.7,882.9 516.7,883.7 517.7,884.5 518.8,885.3 519.8,886.0 520.8,886.8 521.8,887.5 522.8,888.3 523.8,889.0 524.8,889.7 525.8,890.3 526.8,891.0 527.8,891.7 528.8,892.3 529.9,893.0 530.9,893.6 531.9,894.2 532.9,894.8 533.9,895.4 534.9,895.9 535.9,896.5 536.9,897.1 537.9,897.6 538.9,898.2 539.9,898.7 541.0,899.2 542.0,899.7 543.0,900.2 544.0,900.7 545.0,901.2 546.0,901.7 547.0,902.1 548.0,902.6 549.0,903.0 550.0,903.5 551.0,903.9 552.0,904.3 553.1,904.7 554.1,905.2 555.1,905.6 556.1,906.0 557.1,906.4 558.1,906.7 559.1,907.1 560.1,907.5 561.1,907.8 562.1,908.2 563.1,908.6 564.2,908.9 565.2,909.2 566.2,909.6 567.2,909.9 568.2,910.2 569.2,910.5 570.2,910.8 571.2,911.2 572.2,911.5 573.2,911.7 574.2,912.0 575.3,912.3 576.3,912.6 577.3,912.9 578.3,913.1 579.3,913.4 580.3,913.7 581.3,913.9 582.3,914.2 583.3,914.4 584.3,914.7 585.3,914.9 586.3,915.1 587.4,915.4 588.4,915.6 589.4,915.8 590.4,916.0 591.4,916.2 592.4,916.4 593.4,916.7 594.4,916.9" fill="none" stroke="#00ff00" stroke-width="14.5" stroke-linejoin="round" stroke-linecap="butt"/>
<polyline points="750.8,849.0 751.8,853.1 752.8,857.0 753.8,860.6 754.8,864.1 755.8,867.3 756.8,870.3 757.8,873.1 758.9,875.8 759.9,878.2 760.9,880.6 761.9,882.8 762.9,884.8 763.9,886.8 764.9,888.7 765.9,890.4 766.9,892.1 767.9,893.7 768.9,895.2 769.9,896.7 771.0,898.1 772.0,899.4 773.0,900.7 774.0,901.9 775.0,903.1 776.0,904.3 777.0,905.4 778.0,906.4 779.0,907.4 780.0,908.4 781.0,909.3 782.1,910.3 783.1,911.1 784.1,912.0 785.1,912.8 786.1,913.6 787.1,914.4 788.1,915.1 789.1,915.8 790.1,916.5 791.1,917.2 792.1,917.9 793.2,918.5 794.2,919.2 795.2,919.8 796.2,920.3 797.2,920.9 798.2,921.5 799.2,922.0 800.2,922.5 801.2,923.1 802.2,923.6 803.2,924.0 804.2,924.5 805.3,925.0 806.3,925.4 807.3,925.9 808.3,926.3 809.3,926.7 810.3,927.1 811.3,927.5 812.3,927.9 813.3,928.3 814.3,928.6 815.3,929.0 816.4,929.4 817.4,929.7 818.4,930.0 819.4,930.4 820.4,930.7 821.4,931.0 822.4,931.3 823.4,931.6 824.4,931.9 825.4,932.2 826.4,932.4 827.5,932.7 828.5,933.0 829.5,933.2 830.5,933.5 831.5,933.7 832.5,934.0 833.5,934.2 834.5,934.5 835.5,934.7 836.5,934.9 837.5,935.1 838.5,935.3 839.6,935.5 840.6,935.7 841.6,935.9 842.6,936.1 843.6,936.3 844.6,936.5 845.6,936.7 846.6,936.9 847.6,937.1 848.6,937.2 849.6,937.4 850.7,937.6 851.7,937.7 852.7,937.9 853.7,938.0 854.7,938.2 855.7,938.3 856.7,938.5 857.7,938.6 858.7,938.7 859.7,938.9 860.7,939.0 861.8,939.1 862.8,939.3 863.8,939.4 864.8,939.5 865.8,939.6 866.8,939.7 867.8,939.9 868.8,940.0 869.8,940.1 870.8,940.2 871.8,940.3 872.8,940.4 873.9,940.5 874.9,940.6 875.9,940.7 876.9,940.8 877.9,940.8 878.9,940.9 879.9,941.0 880.9,941.1 881.9,941.2 882.9,941.3 883.9,941.3 885.0,941.4 886.0,941.5 887.0,941.6 888.0,941.6 889.0,941.7 890.0,941.8 891.0,941.8 892.0,941.9 893.0,942.0 894.0,942.0 895.0,942.1 896.0,942.1 897.1,942.2 898.1,942.2 898.6,942.3" fill="none" stroke="#00ff00" stroke-width="14.5" stroke-linejoin="round" stroke-linecap="butt"/>
<polyline points="1054.9,878.6 1055.9,882.0 1057.0,885.2 1058.0,888.2 1059.0,891.0 1060.0,893.6 1061.0,896.1 1062.0,898.3 1063.0,900.5 1064.0,902.5 1065.0,904.4 1066.0,906.1 1067.0,907.8 1068.1,909.4 1069.1,910.9 1070.1,912.4 1071.1,913.7 1072.1,915.0 1073.1,916.3 1074.1,917.4 1075.1,918.6 1076.1,919.7 1077.1,920.7 1078.1,921.7 1079.1,922.7 1080.2,923.6 1081.2,924.5 1082.2,925.3 1083.2,926.1 1084.2,926.9 1085.2,927.7 1086.2,928.4 1087.2,929.1 1088.2,929.8 1089.2,930.5 1090.2,931.1 1091.3,931.8 1092.3,932.4 1093.3,932.9 1094.3,933.5 1095.3,934.1 1096.3,934.6 1097.3,935.1 1098.3,935.6 1099.3,936.1 1100.3,936.6 1101.3,937.0 1102.3,937.5 1103.4,937.9 1104.4,938.3 1105.4,938.7 1106.4,939.1 1107.4,939.5 1108.4,939.9 1109.4,940.2 1110.4,940.6 1111.4,940.9 1112.4,941.3 1113.4,941.6 1114.5,941.9 1115.5,942.2 1116.5,942.5 1117.5,942.8 1118.5,943.1 1119.5,943.4 1120.5,943.7 1121.5,943.9 1122.5,944.2 1123.5,944.4 1124.5,944.7 1125.6,944.9 1126.6,945.2 1127.6,945.4 1128.6,945.6 1129.6,945.8 1130.6,946.0 1131.6,946.3 1132.6,946.5 1133.6,946.6 1134.6,946.8 1135.6,947.0 1136.6,947.2 1137.7,947.4 1138.7,947.6 1139.7,947.7 1140.7,947.9 1141.7,948.1 1142.7,948.2 1143.7,948.4 1144.7,948.5 1145.7,948.7 1146.7,948.8 1147.7,949.0 1148.8,949.1 1149.8,949.2 1150.8,949.4 1151.8,949.5 1152.8,949.6 1153.8,949.7 1154.8,949.8 1155.8,950.0 1156.8,950.1 1157.8,950.2 1158.8,950.3 1159.9,950.4 1160.9,950.5 1161.9,950.6 1162.9,950.7 1163.9,950.8 1164.9,950.9 1165.9,951.0 1166.9,951.0 1167.9,951.1 1168.9,951.2 1169.9,951.3 1170.9,951.4 1172.0,951.4 1173.0,951.5 1174.0,951.6 1175.0,951.7 1176.0,951.7 1177.0,951.8 1178.0,951.8 1179.0,951.9 1180.0,952.0 1181.0,952.0 1182.0,952.1 1183.1,952.1 1184.1,952.2 1185.1,952.2 1186.1,952.3 1187.1,952.3 1188.1,952.4 1189.1,952.4 1190.1,952.5 1191.1,952.5 1192.1,952.6 1193.1,952.6 1194.2,952.6 1195.2,952.7 1196.2,952.7 1197.2,952.7 1198.2,952.8 1199.2,952.8 1200.2,952.8 1201.0,952.8" fill="none" stroke="#00ff00" stroke-width="14.5" stroke-linejoin="round" stroke-linecap="butt"/>
<polyline points="1358.3,890.6 1359.3,893.9 1360.3,897.0 1361.4,899.9 1362.4,902.5 1363.4,904.9 1364.4,907.1 1365.4,909.2 1366.4,911.2 1367.4,913.0 1368.4,914.7 1369.4,916.3 1370.4,917.8 1371.4,919.3 1372.5,920.6 1373.5,921.9 1374.5,923.1 1375.5,924.3 1376.5,925.4 1377.5,926.5 1378.5,927.5 1379.5,928.4 1380.5,929.3 1381.5,930.2 1382.5,931.1 1383.6,931.9 1384.6,932.7 1385.6,933.4 1386.6,934.1 1387.6,934.8 1388.6,935.5 1389.6,936.2 1390.6,936.8 1391.6,937.4 1392.6,938.0 1393.6,938.5 1394.6,939.1 1395.7,939.6 1396.7,940.1 1397.7,940.6 1398.7,941.1 1399.7,941.5 1400.7,942.0 1401.7,942.4 1402.7,942.8 1403.7,943.2 1404.7,943.6 1405.7,944.0 1406.8,944.4 1407.8,944.8 1408.8,945.1 1409.8,945.5 1410.8,945.8 1411.8,946.1 1412.8,946.4 1413.8,946.7 1414.8,947.0 1415.8,947.3 1416.8,947.6 1417.9,947.9 1418.9,948.1 1419.9,948.4 1420.9,948.7 1421.9,948.9 1422.9,949.1 1423.9,949.4 1424.9,949.6 1425.9,949.8 1426.9,950.0 1427.9,950.2 1428.9,950.5 1430.0,950.7 1431.0,950.9 1432.0,951.0 1433.0,951.2 1434.0,951.4 1435.0,951.6 1436.0,951.8 1437.0,951.9 1438.0,952.1 1439.0,952.2 1440.0,952.4 1441.1,952.6 1442.1,952.7 1443.1,952.8 1444.1,953.0 1445.1,953.1 1446.1,953.3 1447.1,953.4 1448.1,953.5 1449.1,953.6 1450.1,953.8 1451.1,953.9 1452.2,954.0 1453.2,954.1 1454.2,954.2 1455.2,954.3 1456.2,954.4 1457.2,954.5 1458.2,954.6 1459.2,954.7 1460.2,954.8 1461.2,954.9 1462.2,955.0 1463.2,955.1 1464.3,955.1 1465.3,955.2 1466.3,955.3 1467.3,955.4 1468.3,955.5 1469.3,955.5 1470.3,955.6 1471.3,955.7 1472.3,955.7 1473.3,955.8 1474.3,955.9 1475.4,955.9 1476.4,956.0 1477.4,956.0 1478.4,956.1 1479.4,956.2 1480.4,956.2 1481.4,956.3 1482.4,956.3 1483.4,956.4 1484.4,956.4 1485.4,956.4 1486.4,956.5 1487.5,956.5 1488.5,956.6 1489.5,956.6 1490.5,956.6 1491.5,956.7 1492.5,956.7 1493.5,956.8 1494.5,956.8 1495.5,956.8 1496.5,956.8 1497.5,956.9 1498.6,956.9 1499.6,956.9 1500.6,957.0 1501.6,957.0 1502.6,957.0 1503.6,957.0 1504.1,957.0" fill="none" stroke="#00ff00" stroke-width="14.5" stroke-linejoin="round" stroke-linecap="butt"/>
<polyline points="1661.0,889.7 1662.0,893.2 1663.0,896.4 1664.0,899.5 1665.0,902.3 1666.0,904.9 1667.0,907.3 1668.0,909.5 1669.0,911.6 1670.1,913.5 1671.1,915.4 1672.1,917.1 1673.1,918.7 1674.1,920.3 1675.1,921.7 1676.1,923.1 1677.1,924.4 1678.1,925.6 1679.1,926.8 1680.1,927.9 1681.1,929.0 1682.2,930.0 1683.2,931.0 1684.2,932.0 1685.2,932.9 1686.2,933.7 1687.2,934.5 1688.2,935.3 1689.2,936.1 1690.2,936.8 1691.2,937.5 1692.2,938.2 1693.3,938.9 1694.3,939.5 1695.3,940.1 1696.3,940.7 1697.3,941.3 1698.3,941.8 1699.3,942.4 1700.3,942.9 1701.3,943.4 1702.3,943.8 1703.3,944.3 1704.4,944.8 1705.4,945.2 1706.4,945.6 1707.4,946.0 1708.4,946.4 1709.4,946.8 1710.4,947.2 1711.4,947.5 1712.4,947.9 1713.4,948.2 1714.4,948.5 1715.4,948.9 1716.5,949.2 1717.5,949.5 1718.5,949.8 1719.5,950.0 1720.5,950.3 1721.5,950.6 1722.5,950.8 1723.5,951.1 1724.5,951.3 1725.5,951.6 1726.5,951.8 1727.6,952.0 1728.6,952.3 1729.6,952.5 1730.6,952.7 1731.6,952.9 1732.6,953.1 1733.6,953.3 1734.6,953.4 1735.6,953.6 1736.6,953.8 1737.6,954.0 1738.6,954.1 1739.7,954.3 1740.7,954.4 1741.7,954.6 1742.7,954.7 1743.7,954.9 1744.7,955.0 1745.7,955.2 1746.7,955.3 1747.7,955.4 1748.7,955.5 1749.7,955.7 1750.8,955.8 1751.8,955.9 1752.8,956.0 1753.8,956.1 1754.8,956.2 1755.8,956.3 1756.8,956.4 1757.8,956.5 1758.8,956.6 1759.8,956.7 1760.8,956.8 1761.9,956.8 1762.9,956.9 1763.9,957.0 1764.9,957.1 1765.9,957.1 1766.9,957.2 1767.9,957.3 1768.9,957.3 1769.9,957.4 1770.9,957.5 1771.9,957.5 1772.9,957.6 1774.0,957.6 1775.0,957.7 1776.0,957.7 1777.0,957.8 1778.0,957.8 1779.0,957.9 1780.0,957.9 1781.0,957.9 1782.0,958.0 1783.0,958.0 1784.0,958.1 1785.1,958.1 1786.1,958.1 1787.1,958.1 1788.1,958.2 1789.1,958.2 1790.1,958.2 1791.1,958.2 1792.1,958.3 1793.1,958.3 1794.1,958.3 1795.1,958.3 1796.2,958.3 1797.2,958.4 1798.2,958.4 1799.2,958.4 1800.2,958.4 1801.2,958.4 1802.2,958.4 1803.2,958.4 1804.2,958.4" fill="none" stroke="#00ff00" stroke-width="14.5" stroke-linejoin="round" stroke-linecap="butt"/>
</g>
<g clip-path="url(#ca)">
<polyline points="288.5,1158.7 292.3,1163.9 296.1,1166.5 448.4,1166.5 448.4,226.0 449.4,246.5 450.4,267.3 451.4,285.3 452.4,301.0 453.4,314.7 454.4,326.9 455.5,337.8 456.5,347.8 457.5,356.8 458.5,365.2 459.5,372.9 460.5,380.0 461.5,386.7 462.5,392.9 463.5,398.8 464.5,404.4 465.5,409.6 466.6,414.5 467.6,419.2 468.6,423.7 469.6,427.9 470.6,432.0 471.6,435.9 472.6,439.6 473.6,443.2 474.6,446.6 475.6,449.9 476.6,453.1 477.6,456.1 478.7,459.1 479.7,461.9 480.7,464.7 481.7,467.3 482.7,469.9 483.7,472.4 484.7,474.8 485.7,477.1 486.7,479.4 487.7,481.6 488.7,483.7 489.8,485.8 490.8,487.8 491.8,489.7 492.8,491.6 493.8,493.5 494.8,495.3 495.8,497.1 496.8,498.8 497.8,500.5 498.8,502.1 499.8,503.7 500.9,505.3 501.9,506.8 502.9,508.3 503.9,509.8 504.9,511.2 505.9,512.6 506.9,513.9 507.9,515.3 508.9,516.6 509.9,517.9 510.9,519.1 511.9,520.3 513.0,521.5 514.0,522.7 515.0,523.9 516.0,525.0 517.0,526.1 518.0,527.2 519.0,528.3 520.0,529.3 521.0,530.3 522.0,531.3 523.0,532.3 524.1,533.3 525.1,534.3 526.1,535.2 527.1,536.1 528.1,537.0 529.1,537.9 530.1,538.8 531.1,539.7 532.1,540.5 533.1,541.3 534.1,542.2 535.2,543.0 536.2,543.7 537.2,544.5 538.2,545.3 539.2,546.0 540.2,546.8 541.2,547.5 542.2,548.2 543.2,548.9 544.2,549.6 545.2,550.3 546.2,551.0 547.3,551.7 548.3,552.3 549.3,553.0 550.3,553.6 551.3,554.2 552.3,554.8 553.3,555.5 554.3,556.1 555.3,556.6 556.3,557.2 557.3,557.8 558.4,558.4 559.4,558.9 560.4,559.5 561.4,560.0 562.4,560.6 563.4,561.1 564.4,561.6 565.4,562.1 566.4,562.6 567.4,563.1 568.4,563.6 569.5,564.1 570.5,564.6 571.5,565.1 572.5,565.5 573.5,566.0 574.5,566.4 575.5,566.9 576.5,567.3 577.5,567.8 578.5,568.2 579.5,568.6 580.5,569.0 581.6,569.5 582.6,569.9 583.6,570.3 584.6,570.7 585.6,571.1 586.6,571.5 587.6,571.8 588.6,572.2 589.6,572.6 590.6,573.0 591.6,573.3 592.7,573.7 593.7,574.1 594.7,574.4 595.7,574.8 596.7,575.1 597.7,575.4 598.7,575.8 599.0,575.9 599.0,1166.5 751.0,1166.5 751.0,409.6 752.0,410.8 753.1,423.9 754.1,438.1 755.1,451.5 756.1,463.5 757.1,474.2 758.1,483.7 759.1,492.2 760.1,499.8 761.1,506.5 762.1,512.6 763.1,518.0 764.1,523.0 765.2,527.5 766.2,531.6 767.2,535.4 768.2,539.0 769.2,542.2 770.2,545.3 771.2,548.1 772.2,550.8 773.2,553.2 774.2,555.6 775.2,557.8 776.3,559.9 777.3,561.9 778.3,563.7 779.3,565.5 780.3,567.2 781.3,568.8 782.3,570.3 783.3,571.7 784.3,573.1 785.3,574.4 786.3,575.7 787.4,576.9 788.4,578.1 789.4,579.2 790.4,580.2 791.4,581.3 792.4,582.2 793.4,583.2 794.4,584.1 795.4,584.9 796.4,585.8 797.4,586.6 798.4,587.4 799.5,588.1 800.5,588.8 801.5,589.5 802.5,590.2 803.5,590.9 804.5,591.5 805.5,592.1 806.5,592.7 807.5,593.3 808.5,593.8 809.5,594.4 810.6,594.9 811.6,595.4 812.6,595.9 813.6,596.4 814.6,596.9 815.6,597.4 816.6,597.8 817.6,598.2 818.6,598.7 819.6,599.1 820.6,599.5 821.7,599.9 822.7,600.3 823.7,600.7 824.7,601.1 825.7,601.4 826.7,601.8 827.7,602.1 828.7,602.5 829.7,602.8 830.7,603.2 831.7,603.5 832.7,603.8 833.8,604.1 834.8,604.4 835.8,604.7 836.8,605.0 837.8,605.3 838.8,605.6 839.8,605.9 840.8,606.2 841.8,606.5 842.8,606.7 843.8,607.0 844.9,607.3 845.9,607.5 846.9,607.8 847.9,608.0 848.9,608.3 849.9,608.5 850.9,608.8 851.9,609.0 852.9,609.3 853.9,609.5 854.9,609.7 856.0,610.0 857.0,610.2 858.0,610.4 859.0,610.6 860.0,610.8 861.0,611.1 862.0,611.3 863.0,611.5 864.0,611.7 865.0,611.9 866.0,612.1 867.0,612.3 868.1,612.5 869.1,612.7 870.1,612.9 871.1,613.1 872.1,613.3 873.1,613.5 874.1,613.7 875.1,613.9 876.1,614.1 877.1,614.3 878.1,614.4 879.2,614.6 880.2,614.8 881.2,615.0 882.2,615.2 883.2,615.3 884.2,615.5 885.2,615.7 886.2,615.9 887.2,616.0 888.2,616.2 889.2,616.4 890.2,616.6 891.3,616.7 892.3,616.9 893.3,617.1 894.3,617.2 895.3,617.4 896.3,617.6 897.3,617.7 898.3,617.9 899.3,618.0 900.3,618.2 901.3,618.4 902.1,618.5 902.1,1166.5 1054.9,1166.5 1054.9,454.8 1055.9,456.9 1057.0,467.2 1058.0,478.3 1059.0,488.8 1060.0,498.5 1061.0,507.3 1062.0,515.3 1063.0,522.6 1064.0,529.2 1065.0,535.3 1066.0,540.9 1067.0,546.1 1068.1,550.9 1069.1,555.3 1070.1,559.4 1071.1,563.3 1072.1,566.8 1073.1,570.2 1074.1,573.3 1075.1,576.3 1076.1,579.0 1077.1,581.6 1078.1,584.1 1079.1,586.4 1080.2,588.6 1081.2,590.7 1082.2,592.6 1083.2,594.5 1084.2,596.2 1085.2,597.9 1086.2,599.5 1087.2,601.0 1088.2,602.4 1089.2,603.7 1090.2,605.0 1091.3,606.2 1092.3,607.4 1093.3,608.5 1094.3,609.5 1095.3,610.5 1096.3,611.5 1097.3,612.4 1098.3,613.2 1099.3,614.1 1100.3,614.9 1101.3,615.6 1102.3,616.4 1103.4,617.1 1104.4,617.7 1105.4,618.4 1106.4,619.0 1107.4,619.6 1108.4,620.1 1109.4,620.7 1110.4,621.2 1111.4,621.7 1112.4,622.2 1113.4,622.7 1114.5,623.1 1115.5,623.6 1116.5,624.0 1117.5,624.4 1118.5,624.8 1119.5,625.2 1120.5,625.5 1121.5,625.9 1122.5,626.2 1123.5,626.5 1124.5,626.8 1125.6,627.1 1126.6,627.4 1127.6,627.7 1128.6,628.0 1129.6,628.2 1130.6,628.5 1131.6,628.7 1132.6,629.0 1133.6,629.2 1134.6,629.4 1135.6,629.6 1136.6,629.9 1137.7,630.1 1138.7,630.2 1139.7,630.4 1140.7,630.6 1141.7,630.8 1142.7,631.0 1143.7,631.1 1144.7,631.3 1145.7,631.4 1146.7,631.6 1147.7,631.7 1148.8,631.9 1149.8,632.0 1150.8,632.1 1151.8,632.2 1152.8,632.4 1153.8,632.5 1154.8,632.6 1155.8,632.7 1156.8,632.8 1157.8,632.9 1158.8,633.0 1159.9,633.1 1160.9,633.2 1161.9,633.3 1162.9,633.3 1163.9,633.4 1164.9,633.5 1165.9,633.6 1166.9,633.6 1167.9,633.7 1168.9,633.8 1169.9,633.8 1170.9,633.9 1172.0,634.0 1173.0,634.0 1174.0,634.1 1175.0,634.1 1176.0,634.2 1177.0,634.2 1178.0,634.3 1179.0,634.3 1180.0,634.3 1181.0,634.4 1182.0,634.4 1183.1,634.5 1184.1,634.5 1185.1,634.5 1186.1,634.5 1187.1,634.6 1188.1,634.6 1189.1,634.6 1190.1,634.7 1191.1,634.7 1192.1,634.7 1193.1,634.7 1194.2,634.7 1195.2,634.7 1196.2,634.8 1197.2,634.8 1198.2,634.8 1199.2,634.8 1200.2,634.8 1201.2,634.8 1202.2,634.8 1203.2,634.8 1204.2,634.8 1204.7,634.8 1204.7,1166.5 1358.1,1166.5 1358.1,467.9 1359.1,472.7 1360.1,483.8 1361.1,495.1 1362.1,505.5 1363.1,515.0 1364.1,523.5 1365.1,531.2 1366.2,538.2 1367.2,544.6 1368.2,550.4 1369.2,555.8 1370.2,560.7 1371.2,565.3 1372.2,569.5 1373.2,573.4 1374.2,577.1 1375.2,580.5 1376.2,583.7 1377.2,586.7 1378.3,589.5 1379.3,592.2 1380.3,594.7 1381.3,597.0 1382.3,599.2 1383.3,601.3 1384.3,603.3 1385.3,605.2 1386.3,606.9 1387.3,608.6 1388.3,610.2 1389.4,611.7 1390.4,613.2 1391.4,614.6 1392.4,615.9 1393.4,617.1 1394.4,618.3 1395.4,619.4 1396.4,620.5 1397.4,621.5 1398.4,622.5 1399.4,623.4 1400.4,624.3 1401.5,625.1 1402.5,625.9 1403.5,626.7 1404.5,627.4 1405.5,628.2 1406.5,628.8 1407.5,629.5 1408.5,630.1 1409.5,630.7 1410.5,631.3 1411.5,631.9 1412.6,632.4 1413.6,632.9 1414.6,633.4 1415.6,633.9 1416.6,634.4 1417.6,634.8 1418.6,635.3 1419.6,635.7 1420.6,636.1 1421.6,636.5 1422.6,636.9 1423.7,637.2 1424.7,637.6 1425.7,637.9 1426.7,638.3 1427.7,638.6 1428.7,638.9 1429.7,639.2 1430.7,639.5 1431.7,639.8 1432.7,640.1 1433.7,640.3 1434.7,640.6 1435.8,640.8 1436.8,641.1 1437.8,641.3 1438.8,641.5 1439.8,641.8 1440.8,642.0 1441.8,642.2 1442.8,642.4 1443.8,642.6 1444.8,642.8 1445.8,643.0 1446.9,643.2 1447.9,643.4 1448.9,643.5 1449.9,643.7 1450.9,643.9 1451.9,644.0 1452.9,644.2 1453.9,644.3 1454.9,644.5 1455.9,644.6 1456.9,644.8 1458.0,644.9 1459.0,645.0 1460.0,645.2 1461.0,645.3 1462.0,645.4 1463.0,645.6 1464.0,645.7 1465.0,645.8 1466.0,645.9 1467.0,646.0 1468.0,646.1 1469.0,646.2 1470.1,646.3 1471.1,646.4 1472.1,646.5 1473.1,646.6 1474.1,646.7 1475.1,646.8 1476.1,646.9 1477.1,647.0 1478.1,647.1 1479.1,647.2 1480.1,647.2 1481.2,647.3 1482.2,647.4 1483.2,647.5 1484.2,647.5 1485.2,647.6 1486.2,647.7 1487.2,647.8 1488.2,647.8 1489.2,647.9 1490.2,648.0 1491.2,648.0 1492.3,648.1 1493.3,648.1 1494.3,648.2 1495.3,648.3 1496.3,648.3 1497.3,648.4 1498.3,648.4 1499.3,648.5 1500.3,648.5 1501.3,648.6 1502.3,648.6 1503.3,648.7 1504.4,648.7 1505.4,648.8 1506.4,648.8 1507.4,648.9 1507.6,648.9 1507.6,1166.5 1660.7,1166.5 1660.7,480.9 1661.7,483.8 1662.7,493.6 1663.7,504.0 1664.8,513.8 1665.8,522.8 1666.8,531.0 1667.8,538.5 1668.8,545.3 1669.8,551.5 1670.8,557.3 1671.8,562.6 1672.8,567.5 1673.8,572.0 1674.8,576.2 1675.9,580.2 1676.9,583.8 1677.9,587.3 1678.9,590.5 1679.9,593.6 1680.9,596.5 1681.9,599.2 1682.9,601.7 1683.9,604.2 1684.9,606.5 1685.9,608.6 1686.9,610.7 1688.0,612.7 1689.0,614.6 1690.0,616.3 1691.0,618.0 1692.0,619.7 1693.0,621.2 1694.0,622.7 1695.0,624.1 1696.0,625.4 1697.0,626.7 1698.0,628.0 1699.1,629.1 1700.1,630.3 1701.1,631.3 1702.1,632.4 1703.1,633.4 1704.1,634.3 1705.1,635.2 1706.1,636.1 1707.1,636.9 1708.1,637.8 1709.1,638.5 1710.2,639.3 1711.2,640.0 1712.2,640.7 1713.2,641.3 1714.2,641.9 1715.2,642.5 1716.2,643.1 1717.2,643.7 1718.2,644.2 1719.2,644.7 1720.2,645.2 1721.2,645.7 1722.3,646.1 1723.3,646.6 1724.3,647.0 1725.3,647.4 1726.3,647.8 1727.3,648.2 1728.3,648.5 1729.3,648.9 1730.3,649.2 1731.3,649.5 1732.3,649.8 1733.4,650.1 1734.4,650.4 1735.4,650.7 1736.4,650.9 1737.4,651.2 1738.4,651.4 1739.4,651.6 1740.4,651.9 1741.4,652.1 1742.4,652.3 1743.4,652.4 1744.5,652.6 1745.5,652.8 1746.5,653.0 1747.5,653.1 1748.5,653.3 1749.5,653.4 1750.5,653.5 1751.5,653.7 1752.5,653.8 1753.5,653.9 1754.5,654.0 1755.5,654.1 1756.6,654.2 1757.6,654.3 1758.6,654.4 1759.6,654.4 1760.6,654.5 1761.6,654.6 1762.6,654.6 1763.6,654.7 1764.6,654.7 1765.6,654.8 1766.6,654.8 1767.7,654.9 1768.7,654.9 1769.7,654.9 1770.7,654.9 1771.7,655.0 1772.7,655.0 1773.7,655.0 1774.7,655.0 1775.7,655.0 1776.7,655.0 1777.7,655.0 1778.7,655.0 1779.8,655.0 1780.8,655.0 1781.8,655.0 1782.8,654.9 1783.8,654.9 1784.8,654.9 1785.8,654.8 1786.8,654.8 1787.8,654.8 1788.8,654.7 1789.8,654.7 1790.9,654.7 1791.9,654.6 1792.9,654.6 1793.9,654.5 1794.9,654.5 1795.9,654.4 1796.9,654.3 1797.9,654.3 1798.9,654.2 1799.9,654.2 1800.9,654.1 1802.0,654.0 1803.0,653.9 1804.0,653.9 1804.2,653.9" fill="none" stroke="#ff0000" stroke-width="12" stroke-linejoin="round" stroke-linecap="round"/>
<polyline points="451.4,285.3 452.4,301.0 453.4,314.7 454.4,326.9 455.5,337.8 456.5,347.8 457.5,356.8 458.5,365.2 459.5,372.9 460.5,380.0 461.5,386.7 462.5,392.9 463.5,398.8 464.5,404.4 465.5,409.6 466.6,414.5 467.6,419.2 468.6,423.7 469.6,427.9 470.6,432.0 471.6,435.9 472.6,439.6 473.6,443.2 474.6,446.6 475.6,449.9 476.6,453.1 477.6,456.1 478.7,459.1 479.7,461.9 480.7,464.7 481.7,467.3 482.7,469.9 483.7,472.4 484.7,474.8 485.7,477.1 486.7,479.4 487.7,481.6 488.7,483.7 489.8,485.8 490.8,487.8 491.8,489.7 492.8,491.6 493.8,493.5 494.8,495.3 495.8,497.1 496.8,498.8 497.8,500.5 498.8,502.1 499.8,503.7 500.9,505.3 501.9,506.8 502.9,508.3 503.9,509.8 504.9,511.2 505.9,512.6 506.9,513.9 507.9,515.3 508.9,516.6 509.9,517.9 510.9,519.1 511.9,520.3 513.0,521.5 514.0,522.7 515.0,523.9 516.0,525.0 517.0,526.1 518.0,527.2 519.0,528.3 520.0,529.3 521.0,530.3 522.0,531.3 523.0,532.3 524.1,533.3 525.1,534.3 526.1,535.2 527.1,536.1 528.1,537.0 529.1,537.9 530.1,538.8 531.1,539.7 532.1,540.5 533.1,541.3 534.1,542.2 535.2,543.0 536.2,543.7 537.2,544.5 538.2,545.3 539.2,546.0 540.2,546.8 541.2,547.5 542.2,548.2 543.2,548.9 544.2,549.6 545.2,550.3 546.2,551.0 547.3,551.7 548.3,552.3 549.3,553.0 550.3,553.6 551.3,554.2 552.3,554.8 553.3,555.5 554.3,556.1 555.3,556.6 556.3,557.2 557.3,557.8 558.4,558.4 559.4,558.9 560.4,559.5 561.4,560.0 562.4,560.6 563.4,561.1 564.4,561.6 565.4,562.1 566.4,562.6 567.4,563.1 568.4,563.6 569.5,564.1 570.5,564.6 571.5,565.1 572.5,565.5 573.5,566.0 574.5,566.4 575.5,566.9 576.5,567.3 577.5,567.8 578.5,568.2 579.5,568.6 580.5,569.0 581.6,569.5 582.6,569.9 583.6,570.3 584.6,570.7 585.6,571.1 586.6,571.5 587.6,571.8 588.6,572.2 589.6,572.6 590.6,573.0 591.6,573.3 592.7,573.7 593.7,574.1 594.7,574.4 595.7,574.8 596.7,575.1 597.7,575.4 598.7,575.8 599.0,575.9" fill="none" stroke="#ff0000" stroke-width="14.5" stroke-linejoin="round" stroke-linecap="butt"/>
<polyline points="754.1,438.1 755.1,451.5 756.1,463.5 757.1,474.2 758.1,483.7 759.1,492.2 760.1,499.8 761.1,506.5 762.1,512.6 763.1,518.0 764.1,523.0 765.2,527.5 766.2,531.6 767.2,535.4 768.2,539.0 769.2,542.2 770.2,545.3 771.2,548.1 772.2,550.8 773.2,553.2 774.2,555.6 775.2,557.8 776.3,559.9 777.3,561.9 778.3,563.7 779.3,565.5 780.3,567.2 781.3,568.8 782.3,570.3 783.3,571.7 784.3,573.1 785.3,574.4 786.3,575.7 787.4,576.9 788.4,578.1 789.4,579.2 790.4,580.2 791.4,581.3 792.4,582.2 793.4,583.2 794.4,584.1 795.4,584.9 796.4,585.8 797.4,586.6 798.4,587.4 799.5,588.1 800.5,588.8 801.5,589.5 802.5,590.2 803.5,590.9 804.5,591.5 805.5,592.1 806.5,592.7 807.5,593.3 808.5,593.8 809.5,594.4 810.6,594.9 811.6,595.4 812.6,595.9 813.6,596.4 814.6,596.9 815.6,597.4 816.6,597.8 817.6,598.2 818.6,598.7 819.6,599.1 820.6,599.5 821.7,599.9 822.7,600.3 823.7,600.7 824.7,601.1 825.7,601.4 826.7,601.8 827.7,602.1 828.7,602.5 829.7,602.8 830.7,603.2 831.7,603.5 832.7,603.8 833.8,604.1 834.8,604.4 835.8,604.7 836.8,605.0 837.8,605.3 838.8,605.6 839.8,605.9 840.8,606.2 841.8,606.5 842.8,606.7 843.8,607.0 844.9,607.3 845.9,607.5 846.9,607.8 847.9,608.0 848.9,608.3 849.9,608.5 850.9,608.8 851.9,609.0 852.9,609.3 853.9,609.5 854.9,609.7 856.0,610.0 857.0,610.2 858.0,610.4 859.0,610.6 860.0,610.8 861.0,611.1 862.0,611.3 863.0,611.5 864.0,611.7 865.0,611.9 866.0,612.1 867.0,612.3 868.1,612.5 869.1,612.7 870.1,612.9 871.1,613.1 872.1,613.3 873.1,613.5 874.1,613.7 875.1,613.9 876.1,614.1 877.1,614.3 878.1,614.4 879.2,614.6 880.2,614.8 881.2,615.0 882.2,615.2 883.2,615.3 884.2,615.5 885.2,615.7 886.2,615.9 887.2,616.0 888.2,616.2 889.2,616.4 890.2,616.6 891.3,616.7 892.3,616.9 893.3,617.1 894.3,617.2 895.3,617.4 896.3,617.6 897.3,617.7 898.3,617.9 899.3,618.0 900.3,618.2 901.3,618.4 902.1,618.5" fill="none" stroke="#ff0000" stroke-width="14.5" stroke-linejoin="round" stroke-linecap="butt"/>
<polyline points="1059.0,488.8 1060.0,498.5 1061.0,507.3 1062.0,515.3 1063.0,522.6 1064.0,529.2 1065.0,535.3 1066.0,540.9 1067.0,546.1 1068.1,550.9 1069.1,555.3 1070.1,559.4 1071.1,563.3 1072.1,566.8 1073.1,570.2 1074.1,573.3 1075.1,576.3 1076.1,579.0 1077.1,581.6 1078.1,584.1 1079.1,586.4 1080.2,588.6 1081.2,590.7 1082.2,592.6 1083.2,594.5 1084.2,596.2 1085.2,597.9 1086.2,599.5 1087.2,601.0 1088.2,602.4 1089.2,603.7 1090.2,605.0 1091.3,606.2 1092.3,607.4 1093.3,608.5 1094.3,609.5 1095.3,610.5 1096.3,611.5 1097.3,612.4 1098.3,613.2 1099.3,614.1 1100.3,614.9 1101.3,615.6 1102.3,616.4 1103.4,617.1 1104.4,617.7 1105.4,618.4 1106.4,619.0 1107.4,619.6 1108.4,620.1 1109.4,620.7 1110.4,621.2 1111.4,621.7 1112.4,622.2 1113.4,622.7 1114.5,623.1 1115.5,623.6 1116.5,624.0 1117.5,624.4 1118.5,624.8 1119.5,625.2 1120.5,625.5 1121.5,625.9 1122.5,626.2 1123.5,626.5 1124.5,626.8 1125.6,627.1 1126.6,627.4 1127.6,627.7 1128.6,628.0 1129.6,628.2 1130.6,628.5 1131.6,628.7 1132.6,629.0 1133.6,629.2 1134.6,629.4 1135.6,629.6 1136.6,629.9 1137.7,630.1 1138.7,630.2 1139.7,630.4 1140.7,630.6 1141.7,630.8 1142.7,631.0 1143.7,631.1 1144.7,631.3 1145.7,631.4 1146.7,631.6 1147.7,631.7 1148.8,631.9 1149.8,632.0 1150.8,632.1 1151.8,632.2 1152.8,632.4 1153.8,632.5 1154.8,632.6 1155.8,632.7 1156.8,632.8 1157.8,632.9 1158.8,633.0 1159.9,633.1 1160.9,633.2 1161.9,633.3 1162.9,633.3 1163.9,633.4 1164.9,633.5 1165.9,633.6 1166.9,633.6 1167.9,633.7 1168.9,633.8 1169.9,633.8 1170.9,633.9 1172.0,634.0 1173.0,634.0 1174.0,634.1 1175.0,634.1 1176.0,634.2 1177.0,634.2 1178.0,634.3 1179.0,634.3 1180.0,634.3 1181.0,634.4 1182.0,634.4 1183.1,634.5 1184.1,634.5 1185.1,634.5 1186.1,634.5 1187.1,634.6 1188.1,634.6 1189.1,634.6 1190.1,634.7 1191.1,634.7 1192.1,634.7 1193.1,634.7 1194.2,634.7 1195.2,634.7 1196.2,634.8 1197.2,634.8 1198.2,634.8 1199.2,634.8 1200.2,634.8 1201.2,634.8 1202.2,634.8 1203.2,634.8 1204.2,634.8 1204.7,634.8" fill="none" stroke="#ff0000" stroke-width="14.5" stroke-linejoin="round" stroke-linecap="butt"/>
<polyline points="1362.1,505.5 1363.1,515.0 1364.1,523.5 1365.1,531.2 1366.2,538.2 1367.2,544.6 1368.2,550.4 1369.2,555.8 1370.2,560.7 1371.2,565.3 1372.2,569.5 1373.2,573.4 1374.2,577.1 1375.2,580.5 1376.2,583.7 1377.2,586.7 1378.3,589.5 1379.3,592.2 1380.3,594.7 1381.3,597.0 1382.3,599.2 1383.3,601.3 1384.3,603.3 1385.3,605.2 1386.3,606.9 1387.3,608.6 1388.3,610.2 1389.4,611.7 1390.4,613.2 1391.4,614.6 1392.4,615.9 1393.4,617.1 1394.4,618.3 1395.4,619.4 1396.4,620.5 1397.4,621.5 1398.4,622.5 1399.4,623.4 1400.4,624.3 1401.5,625.1 1402.5,625.9 1403.5,626.7 1404.5,627.4 1405.5,628.2 1406.5,628.8 1407.5,629.5 1408.5,630.1 1409.5,630.7 1410.5,631.3 1411.5,631.9 1412.6,632.4 1413.6,632.9 1414.6,633.4 1415.6,633.9 1416.6,634.4 1417.6,634.8 1418.6,635.3 1419.6,635.7 1420.6,636.1 1421.6,636.5 1422.6,636.9 1423.7,637.2 1424.7,637.6 1425.7,637.9 1426.7,638.3 1427.7,638.6 1428.7,638.9 1429.7,639.2 1430.7,639.5 1431.7,639.8 1432.7,640.1 1433.7,640.3 1434.7,640.6 1435.8,640.8 1436.8,641.1 1437.8,641.3 1438.8,641.5 1439.8,641.8 1440.8,642.0 1441.8,642.2 1442.8,642.4 1443.8,642.6 1444.8,642.8 1445.8,643.0 1446.9,643.2 1447.9,643.4 1448.9,643.5 1449.9,643.7 1450.9,643.9 1451.9,644.0 1452.9,644.2 1453.9,644.3 1454.9,644.5 1455.9,644.6 1456.9,644.8 1458.0,644.9 1459.0,645.0 1460.0,645.2 1461.0,645.3 1462.0,645.4 1463.0,645.6 1464.0,645.7 1465.0,645.8 1466.0,645.9 1467.0,646.0 1468.0,646.1 1469.0,646.2 1470.1,646.3 1471.1,646.4 1472.1,646.5 1473.1,646.6 1474.1,646.7 1475.1,646.8 1476.1,646.9 1477.1,647.0 1478.1,647.1 1479.1,647.2 1480.1,647.2 1481.2,647.3 1482.2,647.4 1483.2,647.5 1484.2,647.5 1485.2,647.6 1486.2,647.7 1487.2,647.8 1488.2,647.8 1489.2,647.9 1490.2,648.0 1491.2,648.0 1492.3,648.1 1493.3,648.1 1494.3,648.2 1495.3,648.3 1496.3,648.3 1497.3,648.4 1498.3,648.4 1499.3,648.5 1500.3,648.5 1501.3,648.6 1502.3,648.6 1503.3,648.7 1504.4,648.7 1505.4,648.8 1506.4,648.8 1507.4,648.9 1507.6,648.9" fill="none" stroke="#ff0000" stroke-width="14.5" stroke-linejoin="round" stroke-linecap="butt"/>
<polyline points="1664.8,513.8 1665.8,522.8 1666.8,531.0 1667.8,538.5 1668.8,545.3 1669.8,551.5 1670.8,557.3 1671.8,562.6 1672.8,567.5 1673.8,572.0 1674.8,576.2 1675.9,580.2 1676.9,583.8 1677.9,587.3 1678.9,590.5 1679.9,593.6 1680.9,596.5 1681.9,599.2 1682.9,601.7 1683.9,604.2 1684.9,606.5 1685.9,608.6 1686.9,610.7 1688.0,612.7 1689.0,614.6 1690.0,616.3 1691.0,618.0 1692.0,619.7 1693.0,621.2 1694.0,622.7 1695.0,624.1 1696.0,625.4 1697.0,626.7 1698.0,628.0 1699.1,629.1 1700.1,630.3 1701.1,631.3 1702.1,632.4 1703.1,633.4 1704.1,634.3 1705.1,635.2 1706.1,636.1 1707.1,636.9 1708.1,637.8 1709.1,638.5 1710.2,639.3 1711.2,640.0 1712.2,640.7 1713.2,641.3 1714.2,641.9 1715.2,642.5 1716.2,643.1 1717.2,643.7 1718.2,644.2 1719.2,644.7 1720.2,645.2 1721.2,645.7 1722.3,646.1 1723.3,646.6 1724.3,647.0 1725.3,647.4 1726.3,647.8 1727.3,648.2 1728.3,648.5 1729.3,648.9 1730.3,649.2 1731.3,649.5 1732.3,649.8 1733.4,650.1 1734.4,650.4 1735.4,650.7 1736.4,650.9 1737.4,651.2 1738.4,651.4 1739.4,651.6 1740.4,651.9 1741.4,652.1 1742.4,652.3 1743.4,652.4 1744.5,652.6 1745.5,652.8 1746.5,653.0 1747.5,653.1 1748.5,653.3 1749.5,653.4 1750.5,653.5 1751.5,653.7 1752.5,653.8 1753.5,653.9 1754.5,654.0 1755.5,654.1 1756.6,654.2 1757.6,654.3 1758.6,654.4 1759.6,654.4 1760.6,654.5 1761.6,654.6 1762.6,654.6 1763.6,654.7 1764.6,654.7 1765.6,654.8 1766.6,654.8 1767.7,654.9 1768.7,654.9 1769.7,654.9 1770.7,654.9 1771.7,655.0 1772.7,655.0 1773.7,655.0 1774.7,655.0 1775.7,655.0 1776.7,655.0 1777.7,655.0 1778.7,655.0 1779.8,655.0 1780.8,655.0 1781.8,655.0 1782.8,654.9 1783.8,654.9 1784.8,654.9 1785.8,654.8 1786.8,654.8 1787.8,654.8 1788.8,654.7 1789.8,654.7 1790.9,654.7 1791.9,654.6 1792.9,654.6 1793.9,654.5 1794.9,654.5 1795.9,654.4 1796.9,654.3 1797.9,654.3 1798.9,654.2 1799.9,654.2 1800.9,654.1 1802.0,654.0 1803.0,653.9 1804.0,653.9 1804.2,653.9" fill="none" stroke="#ff0000" stroke-width="14.5" stroke-linejoin="round" stroke-linecap="butt"/>
</g>
<g clip-path="url(#ca)">
<polyline points="288.5,1158.7 292.3,1163.9 296.1,1166.5 444.0,1166.5 444.0,152.1 445.0,185.3 446.0,217.1 447.0,244.1 448.0,267.0 449.1,286.5 450.1,303.4 451.1,318.1 452.1,331.1 453.1,342.7 454.1,353.1 455.1,362.6 456.1,371.2 457.1,379.2 458.1,386.6 459.1,393.5 460.1,400.0 461.2,406.0 462.2,411.7 463.2,417.1 464.2,422.2 465.2,427.0 466.2,431.6 467.2,436.0 468.2,440.2 469.2,444.2 470.2,448.1 471.2,451.8 472.3,455.3 473.3,458.7 474.3,462.0 475.3,465.2 476.3,468.3 477.3,471.2 478.3,474.1 479.3,476.8 480.3,479.5 481.3,482.1 482.3,484.7 483.3,487.1 484.4,489.5 485.4,491.8 486.4,494.0 487.4,496.2 488.4,498.4 489.4,500.4 490.4,502.5 491.4,504.4 492.4,506.4 493.4,508.3 494.4,510.1 495.5,511.9 496.5,513.6 497.5,515.4 498.5,517.0 499.5,518.7 500.5,520.3 501.5,521.9 502.5,523.4 503.5,524.9 504.5,526.4 505.5,527.8 506.6,529.3 507.6,530.6 508.6,532.0 509.6,533.4 510.6,534.7 511.6,536.0 512.6,537.2 513.6,538.5 514.6,539.7 515.6,540.9 516.6,542.1 517.6,543.3 518.7,544.4 519.7,545.5 520.7,546.7 521.7,547.7 522.7,548.8 523.7,549.9 524.7,550.9 525.7,551.9 526.7,552.9 527.7,553.9 528.7,554.9 529.8,555.9 530.8,556.8 531.8,557.8 532.8,558.7 533.8,559.6 534.8,560.5 535.8,561.4 536.8,562.2 537.8,563.1 538.8,563.9 539.8,564.8 540.9,565.6 541.9,566.4 542.9,567.2 543.9,568.0 544.9,568.8 545.9,569.6 546.9,570.3 547.9,571.1 548.9,571.8 549.9,572.6 550.9,573.3 551.9,574.0 553.0,574.7 554.0,575.4 555.0,576.1 556.0,576.8 557.0,577.5 558.0,578.1 559.0,578.8 560.0,579.4 561.0,580.1 562.0,580.7 563.0,581.4 564.1,582.0 565.1,582.6 566.1,583.2 567.1,583.8 568.1,584.4 569.1,585.0 570.1,585.6 571.1,586.1 572.1,586.7 573.1,587.3 574.1,587.8 575.2,588.4 576.2,588.9 577.2,589.5 578.2,590.0 579.2,590.5 580.2,591.1 581.2,591.6 582.2,592.1 583.2,592.6 584.2,593.1 585.2,593.6 586.2,594.1 587.3,594.6 588.3,595.1 589.3,595.6 590.3,596.0 591.3,596.5 592.3,597.0 593.3,597.4 594.2,597.8 594.2,1166.5 747.8,1166.5 747.8,414.8 748.8,450.1 749.8,472.4 750.8,488.4 751.8,500.6 752.8,510.5 753.8,518.7 754.8,525.7 755.8,531.8 756.8,537.2 757.8,542.0 758.9,546.3 759.9,550.3 760.9,553.8 761.9,557.1 762.9,560.2 763.9,563.0 764.9,565.7 765.9,568.2 766.9,570.5 767.9,572.7 768.9,574.8 769.9,576.7 771.0,578.6 772.0,580.3 773.0,582.0 774.0,583.6 775.0,585.2 776.0,586.7 777.0,588.1 778.0,589.4 779.0,590.7 780.0,592.0 781.0,593.2 782.1,594.4 783.1,595.5 784.1,596.6 785.1,597.6 786.1,598.7 787.1,599.6 788.1,600.6 789.1,601.5 790.1,602.4 791.1,603.3 792.1,604.2 793.2,605.0 794.2,605.8 795.2,606.6 796.2,607.3 797.2,608.1 798.2,608.8 799.2,609.5 800.2,610.2 801.2,610.9 802.2,611.5 803.2,612.2 804.2,612.8 805.3,613.4 806.3,614.0 807.3,614.6 808.3,615.2 809.3,615.8 810.3,616.3 811.3,616.9 812.3,617.4 813.3,617.9 814.3,618.4 815.3,618.9 816.4,619.4 817.4,619.9 818.4,620.4 819.4,620.8 820.4,621.3 821.4,621.8 822.4,622.2 823.4,622.6 824.4,623.1 825.4,623.5 826.4,623.9 827.5,624.3 828.5,624.7 829.5,625.1 830.5,625.5 831.5,625.9 832.5,626.2 833.5,626.6 834.5,627.0 835.5,627.3 836.5,627.7 837.5,628.0 838.5,628.4 839.6,628.7 840.6,629.0 841.6,629.4 842.6,629.7 843.6,630.0 844.6,630.3 845.6,630.6 846.6,630.9 847.6,631.2 848.6,631.5 849.6,631.8 850.7,632.1 851.7,632.4 852.7,632.7 853.7,633.0 854.7,633.3 855.7,633.5 856.7,633.8 857.7,634.1 858.7,634.3 859.7,634.6 860.7,634.9 861.8,635.1 862.8,635.4 863.8,635.6 864.8,635.8 865.8,636.1 866.8,636.3 867.8,636.6 868.8,636.8 869.8,637.0 870.8,637.3 871.8,637.5 872.8,637.7 873.9,637.9 874.9,638.2 875.9,638.4 876.9,638.6 877.9,638.8 878.9,639.0 879.9,639.2 880.9,639.4 881.9,639.6 882.9,639.8 883.9,640.0 885.0,640.2 886.0,640.4 887.0,640.6 888.0,640.8 889.0,641.0 890.0,641.2 891.0,641.4 892.0,641.6 893.0,641.8 894.0,641.9 895.0,642.1 896.0,642.3 897.1,642.5 898.1,642.6 898.6,642.7 898.6,1166.5 1050.9,1166.5 1050.9,467.9 1051.9,482.3 1052.9,496.8 1053.9,509.3 1054.9,520.0 1055.9,529.4 1057.0,537.7 1058.0,545.1 1059.0,551.7 1060.0,557.7 1061.0,563.2 1062.0,568.2 1063.0,572.8 1064.0,577.1 1065.0,581.0 1066.0,584.7 1067.0,588.2 1068.1,591.4 1069.1,594.5 1070.1,597.3 1071.1,600.0 1072.1,602.6 1073.1,605.0 1074.1,607.3 1075.1,609.5 1076.1,611.5 1077.1,613.5 1078.1,615.4 1079.1,617.2 1080.2,618.9 1081.2,620.6 1082.2,622.1 1083.2,623.7 1084.2,625.1 1085.2,626.5 1086.2,627.8 1087.2,629.1 1088.2,630.3 1089.2,631.5 1090.2,632.7 1091.3,633.8 1092.3,634.8 1093.3,635.8 1094.3,636.8 1095.3,637.8 1096.3,638.7 1097.3,639.6 1098.3,640.4 1099.3,641.3 1100.3,642.1 1101.3,642.8 1102.3,643.6 1103.4,644.3 1104.4,645.0 1105.4,645.7 1106.4,646.3 1107.4,647.0 1108.4,647.6 1109.4,648.2 1110.4,648.8 1111.4,649.3 1112.4,649.9 1113.4,650.4 1114.5,650.9 1115.5,651.4 1116.5,651.9 1117.5,652.4 1118.5,652.8 1119.5,653.2 1120.5,653.7 1121.5,654.1 1122.5,654.5 1123.5,654.9 1124.5,655.3 1125.6,655.6 1126.6,656.0 1127.6,656.3 1128.6,656.7 1129.6,657.0 1130.6,657.3 1131.6,657.6 1132.6,657.9 1133.6,658.2 1134.6,658.5 1135.6,658.8 1136.6,659.0 1137.7,659.3 1138.7,659.5 1139.7,659.8 1140.7,660.0 1141.7,660.3 1142.7,660.5 1143.7,660.7 1144.7,660.9 1145.7,661.1 1146.7,661.3 1147.7,661.5 1148.8,661.7 1149.8,661.9 1150.8,662.0 1151.8,662.2 1152.8,662.4 1153.8,662.5 1154.8,662.7 1155.8,662.8 1156.8,663.0 1157.8,663.1 1158.8,663.3 1159.9,663.4 1160.9,663.5 1161.9,663.6 1162.9,663.8 1163.9,663.9 1164.9,664.0 1165.9,664.1 1166.9,664.2 1167.9,664.3 1168.9,664.4 1169.9,664.5 1170.9,664.6 1172.0,664.7 1173.0,664.7 1174.0,664.8 1175.0,664.9 1176.0,665.0 1177.0,665.0 1178.0,665.1 1179.0,665.2 1180.0,665.2 1181.0,665.3 1182.0,665.3 1183.1,665.4 1184.1,665.4 1185.1,665.5 1186.1,665.5 1187.1,665.6 1188.1,665.6 1189.1,665.6 1190.1,665.7 1191.1,665.7 1192.1,665.7 1193.1,665.8 1194.2,665.8 1195.2,665.8 1196.2,665.8 1197.2,665.8 1198.2,665.9 1199.2,665.9 1200.2,665.9 1201.0,665.9 1201.0,1166.5 1354.3,1166.5 1354.3,500.1 1355.3,512.5 1356.3,524.8 1357.3,535.6 1358.3,545.0 1359.3,553.2 1360.3,560.5 1361.4,567.0 1362.4,572.9 1363.4,578.2 1364.4,583.0 1365.4,587.5 1366.4,591.6 1367.4,595.4 1368.4,598.9 1369.4,602.2 1370.4,605.3 1371.4,608.2 1372.5,610.9 1373.5,613.5 1374.5,615.9 1375.5,618.2 1376.5,620.3 1377.5,622.4 1378.5,624.3 1379.5,626.2 1380.5,628.0 1381.5,629.7 1382.5,631.3 1383.6,632.8 1384.6,634.3 1385.6,635.7 1386.6,637.1 1387.6,638.4 1388.6,639.6 1389.6,640.8 1390.6,641.9 1391.6,643.1 1392.6,644.1 1393.6,645.1 1394.6,646.1 1395.7,647.1 1396.7,648.0 1397.7,648.9 1398.7,649.7 1399.7,650.6 1400.7,651.4 1401.7,652.1 1402.7,652.9 1403.7,653.6 1404.7,654.3 1405.7,655.0 1406.8,655.6 1407.8,656.3 1408.8,656.9 1409.8,657.5 1410.8,658.0 1411.8,658.6 1412.8,659.1 1413.8,659.7 1414.8,660.2 1415.8,660.6 1416.8,661.1 1417.9,661.6 1418.9,662.0 1419.9,662.5 1420.9,662.9 1421.9,663.3 1422.9,663.7 1423.9,664.1 1424.9,664.4 1425.9,664.8 1426.9,665.2 1427.9,665.5 1428.9,665.8 1430.0,666.1 1431.0,666.5 1432.0,666.8 1433.0,667.0 1434.0,667.3 1435.0,667.6 1436.0,667.9 1437.0,668.1 1438.0,668.4 1439.0,668.6 1440.0,668.9 1441.1,669.1 1442.1,669.3 1443.1,669.5 1444.1,669.7 1445.1,669.9 1446.1,670.1 1447.1,670.3 1448.1,670.5 1449.1,670.7 1450.1,670.9 1451.1,671.0 1452.2,671.2 1453.2,671.3 1454.2,671.5 1455.2,671.6 1456.2,671.8 1457.2,671.9 1458.2,672.0 1459.2,672.2 1460.2,672.3 1461.2,672.4 1462.2,672.5 1463.2,672.6 1464.3,672.7 1465.3,672.8 1466.3,672.9 1467.3,673.0 1468.3,673.1 1469.3,673.2 1470.3,673.3 1471.3,673.4 1472.3,673.4 1473.3,673.5 1474.3,673.6 1475.4,673.6 1476.4,673.7 1477.4,673.7 1478.4,673.8 1479.4,673.9 1480.4,673.9 1481.4,674.0 1482.4,674.0 1483.4,674.0 1484.4,674.1 1485.4,674.1 1486.4,674.1 1487.5,674.2 1488.5,674.2 1489.5,674.2 1490.5,674.2 1491.5,674.3 1492.5,674.3 1493.5,674.3 1494.5,674.3 1495.5,674.3 1496.5,674.3 1497.5,674.3 1498.6,674.3 1499.6,674.4 1500.6,674.4 1501.6,674.4 1502.6,674.3 1503.6,674.3 1504.1,674.3 1504.1,1166.5 1656.9,1166.5 1656.9,494.9 1657.9,510.5 1659.0,525.8 1660.0,538.8 1661.0,549.9 1662.0,559.6 1663.0,568.0 1664.0,575.4 1665.0,582.0 1666.0,588.0 1667.0,593.4 1668.0,598.3 1669.0,602.8 1670.1,606.9 1671.1,610.7 1672.1,614.2 1673.1,617.4 1674.1,620.5 1675.1,623.3 1676.1,625.9 1677.1,628.4 1678.1,630.7 1679.1,632.9 1680.1,635.0 1681.1,636.9 1682.2,638.7 1683.2,640.5 1684.2,642.1 1685.2,643.7 1686.2,645.1 1687.2,646.5 1688.2,647.8 1689.2,649.1 1690.2,650.3 1691.2,651.4 1692.2,652.5 1693.3,653.5 1694.3,654.5 1695.3,655.5 1696.3,656.3 1697.3,657.2 1698.3,658.0 1699.3,658.8 1700.3,659.5 1701.3,660.2 1702.3,660.9 1703.3,661.5 1704.4,662.1 1705.4,662.7 1706.4,663.3 1707.4,663.8 1708.4,664.3 1709.4,664.8 1710.4,665.3 1711.4,665.8 1712.4,666.2 1713.4,666.6 1714.4,667.0 1715.4,667.4 1716.5,667.8 1717.5,668.2 1718.5,668.5 1719.5,668.8 1720.5,669.2 1721.5,669.5 1722.5,669.8 1723.5,670.1 1724.5,670.3 1725.5,670.6 1726.5,670.9 1727.6,671.1 1728.6,671.4 1729.6,671.6 1730.6,671.8 1731.6,672.0 1732.6,672.3 1733.6,672.5 1734.6,672.7 1735.6,672.8 1736.6,673.0 1737.6,673.2 1738.6,673.4 1739.7,673.5 1740.7,673.7 1741.7,673.9 1742.7,674.0 1743.7,674.2 1744.7,674.3 1745.7,674.4 1746.7,674.6 1747.7,674.7 1748.7,674.8 1749.7,675.0 1750.8,675.1 1751.8,675.2 1752.8,675.3 1753.8,675.4 1754.8,675.5 1755.8,675.6 1756.8,675.7 1757.8,675.8 1758.8,675.9 1759.8,676.0 1760.8,676.1 1761.9,676.2 1762.9,676.2 1763.9,676.3 1764.9,676.4 1765.9,676.5 1766.9,676.5 1767.9,676.6 1768.9,676.7 1769.9,676.8 1770.9,676.8 1771.9,676.9 1772.9,676.9 1774.0,677.0 1775.0,677.1 1776.0,677.1 1777.0,677.2 1778.0,677.2 1779.0,677.3 1780.0,677.3 1781.0,677.4 1782.0,677.4 1783.0,677.4 1784.0,677.5 1785.1,677.5 1786.1,677.6 1787.1,677.6 1788.1,677.7 1789.1,677.7 1790.1,677.7 1791.1,677.8 1792.1,677.8 1793.1,677.8 1794.1,677.9 1795.1,677.9 1796.2,677.9 1797.2,677.9 1798.2,678.0 1799.2,678.0 1800.2,678.0 1801.2,678.0 1802.2,678.1 1803.2,678.1 1804.2,678.1" fill="none" stroke="#0000ff" stroke-width="12" stroke-linejoin="round" stroke-linecap="round"/>
<polyline points="448.0,267.0 449.1,286.5 450.1,303.4 451.1,318.1 452.1,331.1 453.1,342.7 454.1,353.1 455.1,362.6 456.1,371.2 457.1,379.2 458.1,386.6 459.1,393.5 460.1,400.0 461.2,406.0 462.2,411.7 463.2,417.1 464.2,422.2 465.2,427.0 466.2,431.6 467.2,436.0 468.2,440.2 469.2,444.2 470.2,448.1 471.2,451.8 472.3,455.3 473.3,458.7 474.3,462.0 475.3,465.2 476.3,468.3 477.3,471.2 478.3,474.1 479.3,476.8 480.3,479.5 481.3,482.1 482.3,484.7 483.3,487.1 484.4,489.5 485.4,491.8 486.4,494.0 487.4,496.2 488.4,498.4 489.4,500.4 490.4,502.5 491.4,504.4 492.4,506.4 493.4,508.3 494.4,510.1 495.5,511.9 496.5,513.6 497.5,515.4 498.5,517.0 499.5,518.7 500.5,520.3 501.5,521.9 502.5,523.4 503.5,524.9 504.5,526.4 505.5,527.8 506.6,529.3 507.6,530.6 508.6,532.0 509.6,533.4 510.6,534.7 511.6,536.0 512.6,537.2 513.6,538.5 514.6,539.7 515.6,540.9 516.6,542.1 517.6,543.3 518.7,544.4 519.7,545.5 520.7,546.7 521.7,547.7 522.7,548.8 523.7,549.9 524.7,550.9 525.7,551.9 526.7,552.9 527.7,553.9 528.7,554.9 529.8,555.9 530.8,556.8 531.8,557.8 532.8,558.7 533.8,559.6 534.8,560.5 535.8,561.4 536.8,562.2 537.8,563.1 538.8,563.9 539.8,564.8 540.9,565.6 541.9,566.4 542.9,567.2 543.9,568.0 544.9,568.8 545.9,569.6 546.9,570.3 547.9,571.1 548.9,571.8 549.9,572.6 550.9,573.3 551.9,574.0 553.0,574.7 554.0,575.4 555.0,576.1 556.0,576.8 557.0,577.5 558.0,578.1 559.0,578.8 560.0,579.4 561.0,580.1 562.0,580.7 563.0,581.4 564.1,582.0 565.1,582.6 566.1,583.2 567.1,583.8 568.1,584.4 569.1,585.0 570.1,585.6 571.1,586.1 572.1,586.7 573.1,587.3 574.1,587.8 575.2,588.4 576.2,588.9 577.2,589.5 578.2,590.0 579.2,590.5 580.2,591.1 581.2,591.6 582.2,592.1 583.2,592.6 584.2,593.1 585.2,593.6 586.2,594.1 587.3,594.6 588.3,595.1 589.3,595.6 590.3,596.0 591.3,596.5 592.3,597.0 593.3,597.4 594.2,597.8" fill="none" stroke="#0000ff" stroke-width="14.5" stroke-linejoin="round" stroke-linecap="butt"/>
<polyline points="750.8,488.4 751.8,500.6 752.8,510.5 753.8,518.7 754.8,525.7 755.8,531.8 756.8,537.2 757.8,542.0 758.9,546.3 759.9,550.3 760.9,553.8 761.9,557.1 762.9,560.2 763.9,563.0 764.9,565.7 765.9,568.2 766.9,570.5 767.9,572.7 768.9,574.8 769.9,576.7 771.0,578.6 772.0,580.3 773.0,582.0 774.0,583.6 775.0,585.2 776.0,586.7 777.0,588.1 778.0,589.4 779.0,590.7 780.0,592.0 781.0,593.2 782.1,594.4 783.1,595.5 784.1,596.6 785.1,597.6 786.1,598.7 787.1,599.6 788.1,600.6 789.1,601.5 790.1,602.4 791.1,603.3 792.1,604.2 793.2,605.0 794.2,605.8 795.2,606.6 796.2,607.3 797.2,608.1 798.2,608.8 799.2,609.5 800.2,610.2 801.2,610.9 802.2,611.5 803.2,612.2 804.2,612.8 805.3,613.4 806.3,614.0 807.3,614.6 808.3,615.2 809.3,615.8 810.3,616.3 811.3,616.9 812.3,617.4 813.3,617.9 814.3,618.4 815.3,618.9 816.4,619.4 817.4,619.9 818.4,620.4 819.4,620.8 820.4,621.3 821.4,621.8 822.4,622.2 823.4,622.6 824.4,623.1 825.4,623.5 826.4,623.9 827.5,624.3 828.5,624.7 829.5,625.1 830.5,625.5 831.5,625.9 832.5,626.2 833.5,626.6 834.5,627.0 835.5,627.3 836.5,627.7 837.5,628.0 838.5,628.4 839.6,628.7 840.6,629.0 841.6,629.4 842.6,629.7 843.6,630.0 844.6,630.3 845.6,630.6 846.6,630.9 847.6,631.2 848.6,631.5 849.6,631.8 850.7,632.1 851.7,632.4 852.7,632.7 853.7,633.0 854.7,633.3 855.7,633.5 856.7,633.8 857.7,634.1 858.7,634.3 859.7,634.6 860.7,634.9 861.8,635.1 862.8,635.4 863.8,635.6 864.8,635.8 865.8,636.1 866.8,636.3 867.8,636.6 868.8,636.8 869.8,637.0 870.8,637.3 871.8,637.5 872.8,637.7 873.9,637.9 874.9,638.2 875.9,638.4 876.9,638.6 877.9,638.8 878.9,639.0 879.9,639.2 880.9,639.4 881.9,639.6 882.9,639.8 883.9,640.0 885.0,640.2 886.0,640.4 887.0,640.6 888.0,640.8 889.0,641.0 890.0,641.2 891.0,641.4 892.0,641.6 893.0,641.8 894.0,641.9 895.0,642.1 896.0,642.3 897.1,642.5 898.1,642.6 898.6,642.7" fill="none" stroke="#0000ff" stroke-width="14.5" stroke-linejoin="round" stroke-linecap="butt"/>
<polyline points="1054.9,520.0 1055.9,529.4 1057.0,537.7 1058.0,545.1 1059.0,551.7 1060.0,557.7 1061.0,563.2 1062.0,568.2 1063.0,572.8 1064.0,577.1 1065.0,581.0 1066.0,584.7 1067.0,588.2 1068.1,591.4 1069.1,594.5 1070.1,597.3 1071.1,600.0 1072.1,602.6 1073.1,605.0 1074.1,607.3 1075.1,609.5 1076.1,611.5 1077.1,613.5 1078.1,615.4 1079.1,617.2 1080.2,618.9 1081.2,620.6 1082.2,622.1 1083.2,623.7 1084.2,625.1 1085.2,626.5 1086.2,627.8 1087.2,629.1 1088.2,630.3 1089.2,631.5 1090.2,632.7 1091.3,633.8 1092.3,634.8 1093.3,635.8 1094.3,636.8 1095.3,637.8 1096.3,638.7 1097.3,639.6 1098.3,640.4 1099.3,641.3 1100.3,642.1 1101.3,642.8 1102.3,643.6 1103.4,644.3 1104.4,645.0 1105.4,645.7 1106.4,646.3 1107.4,647.0 1108.4,647.6 1109.4,648.2 1110.4,648.8 1111.4,649.3 1112.4,649.9 1113.4,650.4 1114.5,650.9 1115.5,651.4 1116.5,651.9 1117.5,652.4 1118.5,652.8 1119.5,653.2 1120.5,653.7 1121.5,654.1 1122.5,654.5 1123.5,654.9 1124.5,655.3 1125.6,655.6 1126.6,656.0 1127.6,656.3 1128.6,656.7 1129.6,657.0 1130.6,657.3 1131.6,657.6 1132.6,657.9 1133.6,658.2 1134.6,658.5 1135.6,658.8 1136.6,659.0 1137.7,659.3 1138.7,659.5 1139.7,659.8 1140.7,660.0 1141.7,660.3 1142.7,660.5 1143.7,660.7 1144.7,660.9 1145.7,661.1 1146.7,661.3 1147.7,661.5 1148.8,661.7 1149.8,661.9 1150.8,662.0 1151.8,662.2 1152.8,662.4 1153.8,662.5 1154.8,662.7 1155.8,662.8 1156.8,663.0 1157.8,663.1 1158.8,663.3 1159.9,663.4 1160.9,663.5 1161.9,663.6 1162.9,663.8 1163.9,663.9 1164.9,664.0 1165.9,664.1 1166.9,664.2 1167.9,664.3 1168.9,664.4 1169.9,664.5 1170.9,664.6 1172.0,664.7 1173.0,664.7 1174.0,664.8 1175.0,664.9 1176.0,665.0 1177.0,665.0 1178.0,665.1 1179.0,665.2 1180.0,665.2 1181.0,665.3 1182.0,665.3 1183.1,665.4 1184.1,665.4 1185.1,665.5 1186.1,665.5 1187.1,665.6 1188.1,665.6 1189.1,665.6 1190.1,665.7 1191.1,665.7 1192.1,665.7 1193.1,665.8 1194.2,665.8 1195.2,665.8 1196.2,665.8 1197.2,665.8 1198.2,665.9 1199.2,665.9 1200.2,665.9 1201.0,665.9" fill="none" stroke="#0000ff" stroke-width="14.5" stroke-linejoin="round" stroke-linecap="butt"/>
<polyline points="1358.3,545.0 1359.3,553.2 1360.3,560.5 1361.4,567.0 1362.4,572.9 1363.4,578.2 1364.4,583.0 1365.4,587.5 1366.4,591.6 1367.4,595.4 1368.4,598.9 1369.4,602.2 1370.4,605.3 1371.4,608.2 1372.5,610.9 1373.5,613.5 1374.5,615.9 1375.5,618.2 1376.5,620.3 1377.5,622.4 1378.5,624.3 1379.5,626.2 1380.5,628.0 1381.5,629.7 1382.5,631.3 1383.6,632.8 1384.6,634.3 1385.6,635.7 1386.6,637.1 1387.6,638.4 1388.6,639.6 1389.6,640.8 1390.6,641.9 1391.6,643.1 1392.6,644.1 1393.6,645.1 1394.6,646.1 1395.7,647.1 1396.7,648.0 1397.7,648.9 1398.7,649.7 1399.7,650.6 1400.7,651.4 1401.7,652.1 1402.7,652.9 1403.7,653.6 1404.7,654.3 1405.7,655.0 1406.8,655.6 1407.8,656.3 1408.8,656.9 1409.8,657.5 1410.8,658.0 1411.8,658.6 1412.8,659.1 1413.8,659.7 1414.8,660.2 1415.8,660.6 1416.8,661.1 1417.9,661.6 1418.9,662.0 1419.9,662.5 1420.9,662.9 1421.9,663.3 1422.9,663.7 1423.9,664.1 1424.9,664.4 1425.9,664.8 1426.9,665.2 1427.9,665.5 1428.9,665.8 1430.0,666.1 1431.0,666.5 1432.0,666.8 1433.0,667.0 1434.0,667.3 1435.0,667.6 1436.0,667.9 1437.0,668.1 1438.0,668.4 1439.0,668.6 1440.0,668.9 1441.1,669.1 1442.1,669.3 1443.1,669.5 1444.1,669.7 1445.1,669.9 1446.1,670.1 1447.1,670.3 1448.1,670.5 1449.1,670.7 1450.1,670.9 1451.1,671.0 1452.2,671.2 1453.2,671.3 1454.2,671.5 1455.2,671.6 1456.2,671.8 1457.2,671.9 1458.2,672.0 1459.2,672.2 1460.2,672.3 1461.2,672.4 1462.2,672.5 1463.2,672.6 1464.3,672.7 1465.3,672.8 1466.3,672.9 1467.3,673.0 1468.3,673.1 1469.3,673.2 1470.3,673.3 1471.3,673.4 1472.3,673.4 1473.3,673.5 1474.3,673.6 1475.4,673.6 1476.4,673.7 1477.4,673.7 1478.4,673.8 1479.4,673.9 1480.4,673.9 1481.4,674.0 1482.4,674.0 1483.4,674.0 1484.4,674.1 1485.4,674.1 1486.4,674.1 1487.5,674.2 1488.5,674.2 1489.5,674.2 1490.5,674.2 1491.5,674.3 1492.5,674.3 1493.5,674.3 1494.5,674.3 1495.5,674.3 1496.5,674.3 1497.5,674.3 1498.6,674.3 1499.6,674.4 1500.6,674.4 1501.6,674.4 1502.6,674.3 1503.6,674.3 1504.1,674.3" fill="none" stroke="#0000ff" stroke-width="14.5" stroke-linejoin="round" stroke-linecap="butt"/>
<polyline points="1661.0,549.9 1662.0,559.6 1663.0,568.0 1664.0,575.4 1665.0,582.0 1666.0,588.0 1667.0,593.4 1668.0,598.3 1669.0,602.8 1670.1,606.9 1671.1,610.7 1672.1,614.2 1673.1,617.4 1674.1,620.5 1675.1,623.3 1676.1,625.9 1677.1,628.4 1678.1,630.7 1679.1,632.9 1680.1,635.0 1681.1,636.9 1682.2,638.7 1683.2,640.5 1684.2,642.1 1685.2,643.7 1686.2,645.1 1687.2,646.5 1688.2,647.8 1689.2,649.1 1690.2,650.3 1691.2,651.4 1692.2,652.5 1693.3,653.5 1694.3,654.5 1695.3,655.5 1696.3,656.3 1697.3,657.2 1698.3,658.0 1699.3,658.8 1700.3,659.5 1701.3,660.2 1702.3,660.9 1703.3,661.5 1704.4,662.1 1705.4,662.7 1706.4,663.3 1707.4,663.8 1708.4,664.3 1709.4,664.8 1710.4,665.3 1711.4,665.8 1712.4,666.2 1713.4,666.6 1714.4,667.0 1715.4,667.4 1716.5,667.8 1717.5,668.2 1718.5,668.5 1719.5,668.8 1720.5,669.2 1721.5,669.5 1722.5,669.8 1723.5,670.1 1724.5,670.3 1725.5,670.6 1726.5,670.9 1727.6,671.1 1728.6,671.4 1729.6,671.6 1730.6,671.8 1731.6,672.0 1732.6,672.3 1733.6,672.5 1734.6,672.7 1735.6,672.8 1736.6,673.0 1737.6,673.2 1738.6,673.4 1739.7,673.5 1740.7,673.7 1741.7,673.9 1742.7,674.0 1743.7,674.2 1744.7,674.3 1745.7,674.4 1746.7,674.6 1747.7,674.7 1748.7,674.8 1749.7,675.0 1750.8,675.1 1751.8,675.2 1752.8,675.3 1753.8,675.4 1754.8,675.5 1755.8,675.6 1756.8,675.7 1757.8,675.8 1758.8,675.9 1759.8,676.0 1760.8,676.1 1761.9,676.2 1762.9,676.2 1763.9,676.3 1764.9,676.4 1765.9,676.5 1766.9,676.5 1767.9,676.6 1768.9,676.7 1769.9,676.8 1770.9,676.8 1771.9,676.9 1772.9,676.9 1774.0,677.0 1775.0,677.1 1776.0,677.1 1777.0,677.2 1778.0,677.2 1779.0,677.3 1780.0,677.3 1781.0,677.4 1782.0,677.4 1783.0,677.4 1784.0,677.5 1785.1,677.5 1786.1,677.6 1787.1,677.6 1788.1,677.7 1789.1,677.7 1790.1,677.7 1791.1,677.8 1792.1,677.8 1793.1,677.8 1794.1,677.9 1795.1,677.9 1796.2,677.9 1797.2,677.9 1798.2,678.0 1799.2,678.0 1800.2,678.0 1801.2,678.0 1802.2,678.1 1803.2,678.1 1804.2,678.1" fill="none" stroke="#0000ff" stroke-width="14.5" stroke-linejoin="round" stroke-linecap="butt"/>
</g>
<g clip-path="url(#cb)">
<polyline points="297.5,2706.5 792.5,2706.5 800.0,2685.0 821.3,2686.5 834.1,2686.1 846.8,2685.7 859.5,2685.3 872.2,2685.0 876.0,2685.0 877.0,2706.5 978.1,2706.5 984.4,2664.0 1003.9,2668.0 1013.6,2667.4 1023.4,2666.7 1033.1,2666.0 1042.8,2665.3 1052.5,2664.6 1062.2,2664.0 1076.5,2663.4 1078.0,2706.5 1168.1,2706.5 1174.9,2637.0 1182.9,2638.9 1200.0,2639.1 1208.4,2638.4 1216.8,2637.8 1225.3,2637.1 1233.7,2636.4 1242.1,2635.8 1250.5,2635.1 1266.5,2634.7 1268.0,2706.5 1356.9,2706.5 1362.1,2603.4 1371.0,2605.3 1399.5,2606.0 1410.8,2605.0 1422.0,2604.0 1433.3,2603.0 1444.5,2602.0 1449.9,2602.2 1451.8,2706.5 1551.9,2706.5 1554.0,2569.0 1561.0,2572.0 1573.7,2572.5 1587.6,2572.0 1601.4,2571.5 1615.2,2571.0 1629.0,2570.5 1645.5,2569.8 1647.1,2706.5 1740.0,2706.5 1743.8,2548.0 1806.1,2546.0" fill="none" stroke="#000000" stroke-width="12" stroke-linejoin="round" stroke-linecap="round"/>
<polyline points="821.3,2686.5 834.1,2686.1 846.8,2685.7 859.5,2685.3 872.2,2685.0 876.0,2685.0" fill="none" stroke="#000000" stroke-width="14.5" stroke-linejoin="round" stroke-linecap="butt"/>
<polyline points="1003.9,2668.0 1013.6,2667.4 1023.4,2666.7 1033.1,2666.0 1042.8,2665.3 1052.5,2664.6 1062.2,2664.0 1076.5,2663.4" fill="none" stroke="#000000" stroke-width="14.5" stroke-linejoin="round" stroke-linecap="butt"/>
<polyline points="1182.9,2638.9 1200.0,2639.1 1208.4,2638.4 1216.8,2637.8 1225.3,2637.1 1233.7,2636.4 1242.1,2635.8 1250.5,2635.1 1266.5,2634.7" fill="none" stroke="#000000" stroke-width="14.5" stroke-linejoin="round" stroke-linecap="butt"/>
<polyline points="1371.0,2605.3 1399.5,2606.0 1410.8,2605.0 1422.0,2604.0 1433.3,2603.0 1444.5,2602.0 1449.9,2602.2" fill="none" stroke="#000000" stroke-width="14.5" stroke-linejoin="round" stroke-linecap="butt"/>
<polyline points="1561.0,2572.0 1573.7,2572.5 1587.6,2572.0 1601.4,2571.5 1615.2,2571.0 1629.0,2570.5 1645.5,2569.8" fill="none" stroke="#000000" stroke-width="14.5" stroke-linejoin="round" stroke-linecap="butt"/>
</g>
<g clip-path="url(#cb)">
<polyline points="297.5,2706.5 601.5,2709.1 682.2,2703.5 683.2,2709.1 792.5,2706.5 796.2,2692.1 822.5,2693.8 830.6,2693.4 838.7,2692.9 846.9,2692.3 855.0,2691.6 863.2,2690.8 871.3,2690.0 876.0,2689.9 877.0,2706.5 987.0,2706.5 993.9,2706.5 987.6,2700.5 999.0,2652.8 1012.3,2658.0 1016.6,2657.7 1021.0,2657.2 1025.3,2656.6 1029.6,2656.0 1034.0,2655.3 1038.3,2654.6 1042.6,2653.8 1047.0,2653.1 1051.3,2652.2 1055.7,2651.4 1060.0,2650.5 1064.3,2649.6 1068.0,2649.1 1069.3,2706.5 1155.3,2706.5 1165.0,2582.6 1171.5,2585.6 1181.0,2587.9 1187.2,2587.1 1193.4,2585.9 1199.6,2584.5 1205.8,2582.9 1212.0,2581.2 1218.2,2579.4 1224.4,2577.5 1230.7,2575.6 1236.9,2573.5 1243.1,2571.4 1249.3,2569.3 1255.5,2567.0 1261.8,2706.5 1350.1,2706.5 1362.5,2466.7 1379.4,2474.7 1384.9,2473.6 1390.4,2471.9 1396.0,2470.0 1401.5,2467.8 1407.1,2465.5 1412.6,2463.1 1418.2,2460.5 1423.7,2457.8 1429.2,2455.0 1434.8,2452.1 1440.3,2449.1 1445.9,2446.0 1449.1,2706.5 1535.3,2706.5 1551.5,2334.8 1557.2,2337.1 1570.1,2346.9 1575.7,2345.9 1581.3,2344.5 1586.8,2342.8 1592.4,2340.9 1598.0,2338.9 1603.6,2336.8 1609.1,2334.5 1614.7,2332.2 1620.3,2329.8 1625.9,2327.2 1631.4,2324.6 1637.0,2322.0 1641.4,2706.5 1725.3,2706.5 1739.0,2234.3 1745.3,2240.0 1779.5,2238.1 1807.0,2229.1" fill="none" stroke="#00ff00" stroke-width="12" stroke-linejoin="round" stroke-linecap="round"/>
<polyline points="822.5,2693.8 830.6,2693.4 838.7,2692.9 846.9,2692.3 855.0,2691.6 863.2,2690.8 871.3,2690.0 876.0,2689.9" fill="none" stroke="#00ff00" stroke-width="14.5" stroke-linejoin="round" stroke-linecap="butt"/>
<polyline points="1012.3,2658.0 1016.6,2657.7 1021.0,2657.2 1025.3,2656.6 1029.6,2656.0 1034.0,2655.3 1038.3,2654.6 1042.6,2653.8 1047.0,2653.1 1051.3,2652.2 1055.7,2651.4 1060.0,2650.5 1064.3,2649.6 1068.0,2649.1" fill="none" stroke="#00ff00" stroke-width="14.5" stroke-linejoin="round" stroke-linecap="butt"/>
<polyline points="1171.5,2585.6 1181.0,2587.9 1187.2,2587.1 1193.4,2585.9 1199.6,2584.5 1205.8,2582.9 1212.0,2581.2 1218.2,2579.4 1224.4,2577.5 1230.7,2575.6 1236.9,2573.5 1243.1,2571.4 1249.3,2569.3 1255.5,2567.0" fill="none" stroke="#00ff00" stroke-width="14.5" stroke-linejoin="round" stroke-linecap="butt"/>
<polyline points="1379.4,2474.7 1384.9,2473.6 1390.4,2471.9 1396.0,2470.0 1401.5,2467.8 1407.1,2465.5 1412.6,2463.1 1418.2,2460.5 1423.7,2457.8 1429.2,2455.0 1434.8,2452.1 1440.3,2449.1 1445.9,2446.0" fill="none" stroke="#00ff00" stroke-width="14.5" stroke-linejoin="round" stroke-linecap="butt"/>
<polyline points="1557.2,2337.1 1570.1,2346.9 1575.7,2345.9 1581.3,2344.5 1586.8,2342.8 1592.4,2340.9 1598.0,2338.9 1603.6,2336.8 1609.1,2334.5 1614.7,2332.2 1620.3,2329.8 1625.9,2327.2 1631.4,2324.6 1637.0,2322.0" fill="none" stroke="#00ff00" stroke-width="14.5" stroke-linejoin="round" stroke-linecap="butt"/>
<polyline points="1745.3,2240.0 1779.5,2238.1 1807.0,2229.1" fill="none" stroke="#00ff00" stroke-width="14.5" stroke-linejoin="round" stroke-linecap="butt"/>
</g>
<g clip-path="url(#cb)">
<polyline points="297.5,2706.5 602.5,2706.5 603.0,2697.0 623.5,2695.7 644.1,2694.3 664.6,2693.0 685.1,2691.7 686.0,2706.5 779.2,2706.5 783.0,2668.7 790.5,2638.5 796.2,2644.6 810.5,2647.2 821.3,2647.6 829.8,2646.5 838.3,2644.9 846.8,2643.1 855.3,2641.1 863.8,2638.9 872.2,2636.6 878.9,2636.2 880.4,2706.5 967.2,2706.5 984.4,2555.4 986.2,2544.8 989.1,2548.9 1002.0,2555.1 1007.2,2554.0 1012.4,2552.5 1017.6,2550.6 1022.8,2548.6 1028.0,2546.4 1033.2,2544.1 1038.4,2541.7 1043.6,2539.1 1048.8,2536.5 1054.0,2533.8 1059.1,2531.0 1064.3,2528.1 1068.9,2526.7 1069.8,2706.5 1157.2,2706.5 1171.5,2362.8 1181.0,2380.1 1188.2,2392.0 1193.9,2390.6 1199.5,2388.4 1205.2,2385.9 1210.8,2383.2 1216.5,2380.2 1222.1,2377.1 1227.8,2373.7 1233.4,2370.3 1239.1,2366.7 1244.7,2363.0 1250.4,2359.2 1256.0,2355.2 1260.8,2354.5 1265.5,2706.5 1347.1,2706.5 1362.1,2223.0 1368.5,2248.7 1385.8,2267.0 1390.7,2265.3 1395.6,2262.8 1400.5,2260.0 1405.4,2256.8 1410.3,2253.4 1415.2,2249.7 1420.1,2245.9 1425.0,2241.9 1429.9,2237.7 1434.7,2233.4 1439.6,2229.0 1444.5,2224.4 1453.7,2221.5 1457.1,2706.5 1543.0,2706.5 1557.2,1958.6 1569.9,1978.0 1575.1,1976.6 1580.3,1974.5 1585.4,1972.1 1590.6,1969.4 1595.7,1966.5 1600.9,1963.4 1606.1,1960.1 1611.2,1956.7 1616.4,1953.2 1621.5,1949.6 1626.7,1945.8 1631.9,1942.0 1641.0,1935.9 1643.7,2706.5 1727.2,2706.5 1741.5,1749.0 1745.3,1762.0 1767.9,1762.0 1779.5,1756.1 1790.0,1747.1 1806.1,1736.0" fill="none" stroke="#0000ff" stroke-width="12" stroke-linejoin="round" stroke-linecap="round"/>
<polyline points="796.2,2644.6 810.5,2647.2 821.3,2647.6 829.8,2646.5 838.3,2644.9 846.8,2643.1 855.3,2641.1 863.8,2638.9 872.2,2636.6 878.9,2636.2" fill="none" stroke="#0000ff" stroke-width="14.5" stroke-linejoin="round" stroke-linecap="butt"/>
<polyline points="989.1,2548.9 1002.0,2555.1 1007.2,2554.0 1012.4,2552.5 1017.6,2550.6 1022.8,2548.6 1028.0,2546.4 1033.2,2544.1 1038.4,2541.7 1043.6,2539.1 1048.8,2536.5 1054.0,2533.8 1059.1,2531.0 1064.3,2528.1 1068.9,2526.7" fill="none" stroke="#0000ff" stroke-width="14.5" stroke-linejoin="round" stroke-linecap="butt"/>
<polyline points="1181.0,2380.1 1188.2,2392.0 1193.9,2390.6 1199.5,2388.4 1205.2,2385.9 1210.8,2383.2 1216.5,2380.2 1222.1,2377.1 1227.8,2373.7 1233.4,2370.3 1239.1,2366.7 1244.7,2363.0 1250.4,2359.2 1256.0,2355.2 1260.8,2354.5" fill="none" stroke="#0000ff" stroke-width="14.5" stroke-linejoin="round" stroke-linecap="butt"/>
<polyline points="1368.5,2248.7 1385.8,2267.0 1390.7,2265.3 1395.6,2262.8 1400.5,2260.0 1405.4,2256.8 1410.3,2253.4 1415.2,2249.7 1420.1,2245.9 1425.0,2241.9 1429.9,2237.7 1434.7,2233.4 1439.6,2229.0 1444.5,2224.4 1453.7,2221.5" fill="none" stroke="#0000ff" stroke-width="14.5" stroke-linejoin="round" stroke-linecap="butt"/>
<polyline points="1569.9,1978.0 1575.1,1976.6 1580.3,1974.5 1585.4,1972.1 1590.6,1969.4 1595.7,1966.5 1600.9,1963.4 1606.1,1960.1 1611.2,1956.7 1616.4,1953.2 1621.5,1949.6 1626.7,1945.8 1631.9,1942.0 1641.0,1935.9" fill="none" stroke="#0000ff" stroke-width="14.5" stroke-linejoin="round" stroke-linecap="butt"/>
<polyline points="1745.3,1762.0 1767.9,1762.0 1779.5,1756.1 1790.0,1747.1 1806.1,1736.0" fill="none" stroke="#0000ff" stroke-width="14.5" stroke-linejoin="round" stroke-linecap="butt"/>
</g>
<g clip-path="url(#cb)">
<polyline points="297.5,2706.5 386.8,2706.5 392.5,2703.5 500.8,2698.9 506.5,2706.5 587.2,2706.5 589.1,2700.5 601.5,2679.3 612.9,2683.1 619.6,2682.8 626.4,2682.4 633.1,2681.9 639.8,2681.4 646.5,2680.8 653.3,2680.2 660.0,2679.6 666.7,2678.9 673.5,2678.2 680.2,2677.5 686.9,2676.7 693.6,2676.0 697.5,2706.5 783.0,2706.5 789.0,2706.5 783.5,2698.9 791.5,2621.1 801.0,2628.7 810.5,2634.4 818.1,2635.9 829.5,2634.7 833.7,2634.0 837.8,2633.1 842.0,2632.2 846.2,2631.1 850.3,2630.0 854.5,2628.8 858.6,2627.6 862.8,2626.4 867.0,2625.1 871.1,2623.8 875.3,2622.5 879.5,2621.1 880.8,2623.4 885.4,2706.5 967.4,2706.5 975.4,2706.5 968.4,2697.4 983.2,2520.0 989.5,2528.5 998.8,2537.3 1008.3,2538.0 1019.9,2536.7 1037.4,2530.3 1053.7,2522.2 1070.4,2513.1 1071.9,2517.6 1075.4,2706.5 1160.1,2706.5 1169.6,2706.5 1160.7,2697.4 1174.7,2348.0 1181.0,2356.7 1188.6,2364.7 1197.7,2368.1 1205.7,2367.3 1210.3,2366.6 1214.8,2365.2 1219.4,2363.5 1223.9,2361.4 1228.5,2359.1 1233.1,2356.5 1237.6,2353.6 1242.2,2350.6 1246.7,2347.4 1251.3,2344.0 1255.9,2340.4 1260.4,2336.6 1261.6,2343.9 1263.3,2706.5 1349.0,2706.5 1356.9,2706.5 1349.5,2697.4 1364.0,2200.5 1371.0,2210.9 1378.6,2216.6 1386.2,2217.7 1393.8,2216.8 1398.6,2215.9 1403.4,2214.5 1408.1,2212.7 1412.9,2210.7 1417.7,2208.5 1422.5,2206.1 1427.3,2203.5 1432.1,2200.8 1436.8,2197.9 1441.6,2194.9 1446.4,2191.7 1451.2,2188.5 1451.9,2192.8 1455.0,2706.5 1540.1,2706.5 1548.1,2706.5 1540.7,2697.4 1553.0,1922.0 1559.1,1928.4 1566.7,1932.9 1574.3,1933.5 1581.9,1932.5 1586.7,1931.9 1591.6,1930.6 1596.4,1928.8 1601.2,1926.7 1606.0,1924.1 1610.9,1921.3 1615.7,1918.1 1620.5,1914.7 1625.4,1911.0 1630.2,1907.0 1635.0,1902.8 1639.9,1898.4 1640.8,1905.7 1644.8,2706.5 1731.0,2706.5 1738.1,2706.5 1731.6,2697.4 1743.0,1688.9 1762.0,1688.9 1771.9,1686.6 1785.0,1679.1 1806.1,1671.5" fill="none" stroke="#ff0000" stroke-width="12" stroke-linejoin="round" stroke-linecap="round"/>
<polyline points="612.9,2683.1 619.6,2682.8 626.4,2682.4 633.1,2681.9 639.8,2681.4 646.5,2680.8 653.3,2680.2 660.0,2679.6 666.7,2678.9 673.5,2678.2 680.2,2677.5 686.9,2676.7 693.6,2676.0" fill="none" stroke="#ff0000" stroke-width="14.5" stroke-linejoin="round" stroke-linecap="butt"/>
<polyline points="801.0,2628.7 810.5,2634.4 818.1,2635.9 829.5,2634.7 833.7,2634.0 837.8,2633.1 842.0,2632.2 846.2,2631.1 850.3,2630.0 854.5,2628.8 858.6,2627.6 862.8,2626.4 867.0,2625.1 871.1,2623.8 875.3,2622.5 879.5,2621.1 880.8,2623.4" fill="none" stroke="#ff0000" stroke-width="14.5" stroke-linejoin="round" stroke-linecap="butt"/>
<polyline points="989.5,2528.5 998.8,2537.3 1008.3,2538.0 1019.9,2536.7 1037.4,2530.3 1053.7,2522.2 1070.4,2513.1 1071.9,2517.6" fill="none" stroke="#ff0000" stroke-width="14.5" stroke-linejoin="round" stroke-linecap="butt"/>
<polyline points="1181.0,2356.7 1188.6,2364.7 1197.7,2368.1 1205.7,2367.3 1210.3,2366.6 1214.8,2365.2 1219.4,2363.5 1223.9,2361.4 1228.5,2359.1 1233.1,2356.5 1237.6,2353.6 1242.2,2350.6 1246.7,2347.4 1251.3,2344.0 1255.9,2340.4 1260.4,2336.6 1261.6,2343.9" fill="none" stroke="#ff0000" stroke-width="14.5" stroke-linejoin="round" stroke-linecap="butt"/>
<polyline points="1371.0,2210.9 1378.6,2216.6 1386.2,2217.7 1393.8,2216.8 1398.6,2215.9 1403.4,2214.5 1408.1,2212.7 1412.9,2210.7 1417.7,2208.5 1422.5,2206.1 1427.3,2203.5 1432.1,2200.8 1436.8,2197.9 1441.6,2194.9 1446.4,2191.7 1451.2,2188.5 1451.9,2192.8" fill="none" stroke="#ff0000" stroke-width="14.5" stroke-linejoin="round" stroke-linecap="butt"/>
<polyline points="1559.1,1928.4 1566.7,1932.9 1574.3,1933.5 1581.9,1932.5 1586.7,1931.9 1591.6,1930.6 1596.4,1928.8 1601.2,1926.7 1606.0,1924.1 1610.9,1921.3 1615.7,1918.1 1620.5,1914.7 1625.4,1911.0 1630.2,1907.0 1635.0,1902.8 1639.9,1898.4 1640.8,1905.7" fill="none" stroke="#ff0000" stroke-width="14.5" stroke-linejoin="round" stroke-linecap="butt"/>
<polyline points="1762.0,1688.9 1771.9,1686.6 1785.0,1679.1 1806.1,1671.5" fill="none" stroke="#ff0000" stroke-width="14.5" stroke-linejoin="round" stroke-linecap="butt"/>
</g>
<g style="font-family:'Liberation Serif','Times New Roman',serif;font-weight:bold" fill="#000">
<text x="264.80" y="1186.00" font-size="64" text-anchor="end" >0.0</text>
<text x="264.80" y="1012.00" font-size="64" text-anchor="end" >0.2</text>
<text x="264.80" y="838.00" font-size="64" text-anchor="end" >0.4</text>
<text x="264.80" y="664.00" font-size="64" text-anchor="end" >0.6</text>
<text x="264.80" y="490.00" font-size="64" text-anchor="end" >0.8</text>
<text x="264.80" y="316.00" font-size="64" text-anchor="end" >1.0</text>
<text x="264.80" y="142.00" font-size="64" text-anchor="end" >1.2</text>
<text x="288.50" y="1252.60" font-size="64" text-anchor="middle" >0</text>
<text x="540.70" y="1252.60" font-size="64" text-anchor="middle" >100</text>
<text x="792.90" y="1252.60" font-size="64" text-anchor="middle" >200</text>
<text x="1045.10" y="1252.60" font-size="64" text-anchor="middle" >300</text>
<text x="1297.30" y="1252.60" font-size="64" text-anchor="middle" >400</text>
<text x="1549.50" y="1252.60" font-size="64" text-anchor="middle" >500</text>
<text x="1801.70" y="1252.60" font-size="64" text-anchor="middle" >600</text>
<text x="897.80" y="1361.10" font-size="64" text-anchor="start" >Time (sec.)</text>
<text transform="translate(88.9,1033) rotate(-90)" font-size="64">Photocurrent density (mA/cm<tspan font-size="39" dy="-30">2</tspan><tspan dy="30">)</tspan></text>
<text x="322.10" y="139.80" font-size="121" text-anchor="start" >a</text>
<rect x="1430" y="105.0" width="143" height="12" fill="#000"/>
<text x="1587.60" y="133.00" font-size="64" text-anchor="start" >1 min</text>
<rect x="1430" y="184.7" width="143" height="12" fill="#00ff00"/>
<text x="1587.60" y="212.70" font-size="64" text-anchor="start" >5 min</text>
<rect x="1430" y="264.4" width="143" height="12" fill="#0000ff"/>
<text x="1587.60" y="292.40" font-size="64" text-anchor="start" >10 min</text>
<rect x="1430" y="344.1" width="143" height="12" fill="#ff0000"/>
<text x="1587.60" y="372.10" font-size="64" text-anchor="start" >20 min</text>
<text x="273.60" y="2726.00" font-size="64" text-anchor="end" >0.0</text>
<text x="273.60" y="2574.91" font-size="64" text-anchor="end" >0.2</text>
<text x="273.60" y="2423.82" font-size="64" text-anchor="end" >0.4</text>
<text x="273.60" y="2272.73" font-size="64" text-anchor="end" >0.6</text>
<text x="273.60" y="2121.64" font-size="64" text-anchor="end" >0.8</text>
<text x="273.60" y="1970.55" font-size="64" text-anchor="end" >1.0</text>
<text x="273.60" y="1819.46" font-size="64" text-anchor="end" >1.2</text>
<text x="273.60" y="1668.37" font-size="64" text-anchor="end" >1.4</text>
<text x="297.50" y="2793.90" font-size="64" text-anchor="middle" >0.0</text>
<text x="487.50" y="2793.90" font-size="64" text-anchor="middle" >0.1</text>
<text x="677.50" y="2793.90" font-size="64" text-anchor="middle" >0.2</text>
<text x="867.50" y="2793.90" font-size="64" text-anchor="middle" >0.3</text>
<text x="1057.50" y="2793.90" font-size="64" text-anchor="middle" >0.4</text>
<text x="1247.50" y="2793.90" font-size="64" text-anchor="middle" >0.5</text>
<text x="1437.50" y="2793.90" font-size="64" text-anchor="middle" >0.6</text>
<text x="1627.50" y="2793.90" font-size="64" text-anchor="middle" >0.7</text>
<text x="1817.50" y="2793.90" font-size="64" text-anchor="middle" >0.8</text>
<text x="799.90" y="2896.90" font-size="58.5" text-anchor="start" >Potential (V vs SCE)</text>
<text transform="translate(98,2614.8) rotate(-90)" font-size="64">Photocurrent density (mA/cm<tspan font-size="39" dy="-30">2</tspan><tspan dy="30">)</tspan></text>
<text x="328.30" y="1704.70" font-size="122" text-anchor="start" >b</text>
<rect x="366.8" y="1918.2" width="144.2" height="13.5" fill="#000"/>
<text x="526.30" y="1947.00" font-size="64" text-anchor="start" >1 min</text>
<rect x="366.8" y="1999.0" width="144.2" height="12" fill="#00ff00"/>
<text x="526.30" y="2027.00" font-size="64" text-anchor="start" >5 min</text>
<rect x="366.8" y="2079.0" width="144.2" height="12" fill="#0000ff"/>
<text x="526.30" y="2107.00" font-size="64" text-anchor="start" >10 min</text>
<rect x="366.8" y="2159.0" width="144.2" height="12" fill="#ff0000"/>
<text x="526.30" y="2187.00" font-size="64" text-anchor="start" >20 min</text>
</g>
</svg>
</body></html>
